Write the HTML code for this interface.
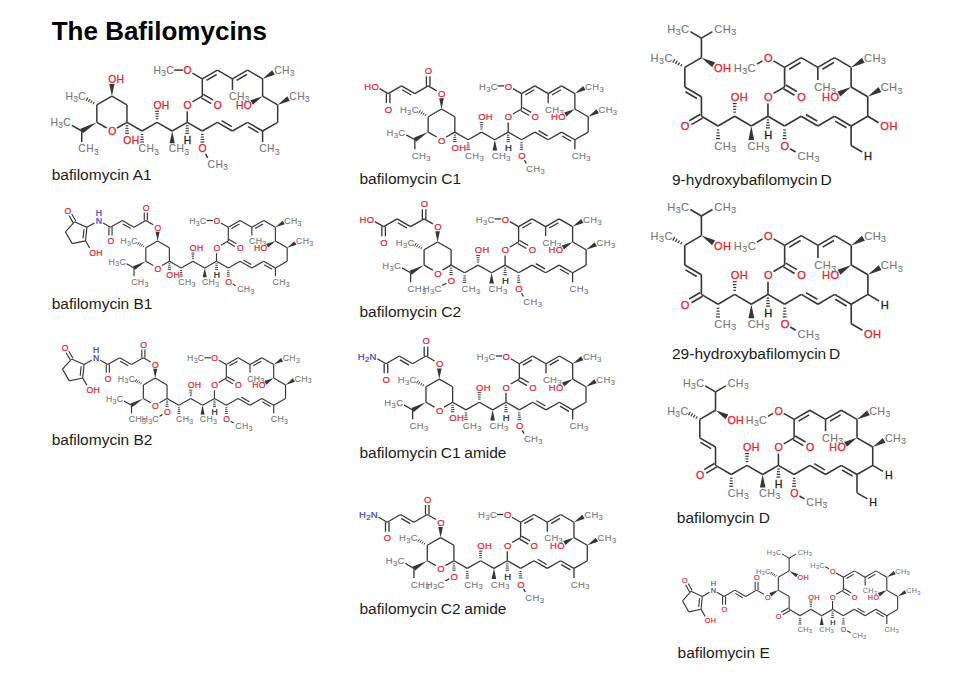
<!DOCTYPE html>
<html><head><meta charset="utf-8"><style>
html,body{margin:0;padding:0;background:#fff;}
body{width:960px;height:676px;overflow:hidden;position:relative;}
svg text{font-family:"Liberation Sans",sans-serif;}
</style></head><body>
<svg width="960" height="676" style="position:absolute;left:0;top:0">
<text x="51.7" y="39.7" font-size="26" font-weight="bold" fill="#000">The Bafilomycins</text>
<text x="51.7" y="179.8" font-size="15.5" fill="#1c1c1c" word-spacing="0">bafilomycin A1</text><text x="51.7" y="308.5" font-size="15.5" fill="#1c1c1c" word-spacing="0">bafilomycin B1</text><text x="51.7" y="445.4" font-size="15.5" fill="#1c1c1c" word-spacing="0">bafilomycin B2</text><text x="359.5" y="184.1" font-size="15.5" fill="#1c1c1c" word-spacing="0">bafilomycin C1</text><text x="359.5" y="317.3" font-size="15.5" fill="#1c1c1c" word-spacing="0">bafilomycin C2</text><text x="359.5" y="457.8" font-size="15.5" fill="#1c1c1c" word-spacing="-0.6">bafilomycin C1 amide</text><text x="359.5" y="614.0" font-size="15.5" fill="#1c1c1c" word-spacing="-0.6">bafilomycin C2 amide</text><text x="672.0" y="184.5" font-size="15.5" fill="#1c1c1c" word-spacing="-1.5">9-hydroxybafilomycin D</text><text x="672.0" y="359.1" font-size="15.5" fill="#1c1c1c" word-spacing="-1.5">29-hydroxybafilomycin D</text><text x="676.8" y="522.5" font-size="15.5" fill="#1c1c1c" word-spacing="0">bafilomycin D</text><text x="677.6" y="657.5" font-size="15.5" fill="#1c1c1c" word-spacing="0">bafilomycin E</text>
<g stroke="#363636" stroke-width="1.48" stroke-linecap="butt"><line x1="262.59" y1="131.00" x2="262.59" y2="142.01"/><line x1="140.79" y1="134.52" x2="143.29" y2="134.52" stroke-width="1.11"/><line x1="140.54" y1="137.02" x2="143.54" y2="137.02" stroke-width="1.11"/><line x1="140.29" y1="139.51" x2="143.79" y2="139.51" stroke-width="1.11"/><line x1="140.04" y1="142.01" x2="144.04" y2="142.01" stroke-width="1.11"/><line x1="142.04" y1="131.00" x2="157.11" y2="122.30"/><line x1="158.36" y1="118.78" x2="155.85" y2="118.78" stroke-width="1.11"/><line x1="158.61" y1="116.28" x2="155.61" y2="116.28" stroke-width="1.11"/><line x1="158.86" y1="113.79" x2="155.36" y2="113.79" stroke-width="1.11"/><line x1="159.11" y1="111.29" x2="155.11" y2="111.29" stroke-width="1.11"/><line x1="157.11" y1="122.30" x2="172.18" y2="131.00"/><polygon points="172.18,131.00 169.57,143.29 174.79,143.29" fill="#363636" stroke="none"/><line x1="172.18" y1="131.00" x2="187.24" y2="122.30"/><line x1="185.99" y1="125.82" x2="188.50" y2="125.82" stroke-width="1.11"/><line x1="185.74" y1="128.32" x2="188.75" y2="128.32" stroke-width="1.11"/><line x1="185.49" y1="130.81" x2="188.99" y2="130.81" stroke-width="1.11"/><line x1="185.24" y1="133.31" x2="189.24" y2="133.31" stroke-width="1.11"/><line x1="187.24" y1="122.30" x2="187.24" y2="111.29"/><line x1="192.42" y1="101.91" x2="202.31" y2="96.20"/><line x1="201.31" y1="97.93" x2="211.20" y2="103.64"/><line x1="203.31" y1="94.47" x2="213.20" y2="100.18"/><line x1="202.31" y1="96.20" x2="202.31" y2="78.80"/><line x1="202.31" y1="78.80" x2="192.42" y2="73.09"/><line x1="182.91" y1="70.10" x2="174.09" y2="70.10"/><line x1="202.31" y1="78.80" x2="217.38" y2="70.10"/><line x1="206.46" y1="80.42" x2="216.71" y2="74.51"/><line x1="217.38" y1="70.10" x2="232.45" y2="78.80"/><line x1="232.45" y1="78.80" x2="232.45" y2="89.81"/><line x1="232.45" y1="78.80" x2="247.52" y2="70.10"/><line x1="236.60" y1="80.42" x2="246.85" y2="74.51"/><line x1="247.52" y1="70.10" x2="262.59" y2="78.80"/><polygon points="262.59,78.80 274.82,74.75 272.21,70.23" fill="#363636" stroke="none"/><line x1="262.59" y1="78.80" x2="262.59" y2="96.20"/><polygon points="262.59,96.20 250.36,100.25 252.97,104.77" fill="#363636" stroke="none"/><line x1="262.59" y1="96.20" x2="277.66" y2="104.90"/><polygon points="277.66,104.90 289.89,100.85 287.28,96.33" fill="#363636" stroke="none"/><line x1="277.66" y1="104.90" x2="277.66" y2="122.30"/><line x1="277.66" y1="122.30" x2="262.59" y2="131.00"/><line x1="262.59" y1="131.00" x2="247.52" y2="122.30"/><line x1="258.44" y1="132.62" x2="248.19" y2="126.71"/><line x1="247.52" y1="122.30" x2="232.45" y2="131.00"/><line x1="232.45" y1="131.00" x2="217.38" y2="122.30"/><line x1="231.78" y1="126.59" x2="221.53" y2="120.68"/><line x1="217.38" y1="122.30" x2="202.31" y2="131.00"/><line x1="201.06" y1="134.52" x2="203.57" y2="134.52" stroke-width="1.11"/><line x1="200.81" y1="137.02" x2="203.81" y2="137.02" stroke-width="1.11"/><line x1="200.56" y1="139.51" x2="204.06" y2="139.51" stroke-width="1.11"/><line x1="200.31" y1="142.01" x2="204.31" y2="142.01" stroke-width="1.11"/><line x1="205.51" y1="153.93" x2="207.82" y2="157.93"/><line x1="202.31" y1="131.00" x2="187.24" y2="122.30"/><line x1="117.08" y1="128.01" x2="126.97" y2="122.30"/><line x1="126.97" y1="122.30" x2="126.97" y2="104.90"/><line x1="126.97" y1="104.90" x2="111.90" y2="96.20"/><line x1="111.90" y1="96.20" x2="96.83" y2="104.90"/><line x1="96.83" y1="104.90" x2="96.83" y2="122.30"/><line x1="96.83" y1="122.30" x2="106.72" y2="128.01"/><line x1="94.29" y1="101.99" x2="93.04" y2="104.16" stroke-width="1.11"/><line x1="92.17" y1="100.48" x2="90.67" y2="103.08" stroke-width="1.11"/><line x1="90.06" y1="98.97" x2="88.31" y2="102.00" stroke-width="1.11"/><line x1="87.94" y1="97.46" x2="85.94" y2="100.92" stroke-width="1.11"/><polygon points="96.83,122.30 80.46,128.74 83.07,133.26" fill="#363636" stroke="none"/><line x1="81.76" y1="131.00" x2="71.87" y2="125.29"/><line x1="81.76" y1="131.00" x2="81.76" y2="142.01"/><line x1="126.97" y1="122.30" x2="142.04" y2="131.00"/><line x1="125.72" y1="125.82" x2="128.22" y2="125.82" stroke-width="1.11"/><line x1="125.47" y1="128.32" x2="128.47" y2="128.32" stroke-width="1.11"/><line x1="125.22" y1="130.81" x2="128.72" y2="130.81" stroke-width="1.11"/><line x1="124.97" y1="133.31" x2="128.97" y2="133.31" stroke-width="1.11"/><polygon points="111.90,96.20 114.51,83.91 109.29,83.91" fill="#363636" stroke="none"/></g>
<text x="138.62" y="152.49" font-size="10.31" fill="#767676" stroke="#767676" stroke-width="0.10">C</text>
<text x="146.47" y="152.49" font-size="10.31" fill="#767676" stroke="#767676" stroke-width="0.10">H</text>
<text x="154.33" y="154.55" font-size="8.25" fill="#767676" stroke="#767676" stroke-width="0.10">3</text>
<text x="153.40" y="108.99" font-size="10.31" fill="#e8212e" stroke="#e8212e" stroke-width="0.26">O</text>
<text x="161.83" y="108.99" font-size="10.31" fill="#e8212e" stroke="#e8212e" stroke-width="0.26">H</text>
<text x="168.75" y="152.49" font-size="10.31" fill="#767676" stroke="#767676" stroke-width="0.10">C</text>
<text x="176.61" y="152.49" font-size="10.31" fill="#767676" stroke="#767676" stroke-width="0.10">H</text>
<text x="184.46" y="154.55" font-size="8.25" fill="#767676" stroke="#767676" stroke-width="0.10">3</text>
<text x="183.82" y="143.79" font-size="10.31" fill="#1a1a1a" stroke="#1a1a1a" stroke-width="0.26">H</text>
<text x="183.53" y="108.99" font-size="10.31" fill="#e8212e" stroke="#e8212e" stroke-width="0.26">O</text>
<text x="213.67" y="108.99" font-size="10.31" fill="#e8212e" stroke="#e8212e" stroke-width="0.26">O</text>
<text x="183.53" y="74.19" font-size="10.31" fill="#e8212e" stroke="#e8212e" stroke-width="0.26">O</text>
<text x="153.49" y="74.19" font-size="10.31" fill="#767676" stroke="#767676" stroke-width="0.10">H</text>
<text x="161.35" y="76.25" font-size="8.25" fill="#767676" stroke="#767676" stroke-width="0.10">3</text>
<text x="166.34" y="74.19" font-size="10.31" fill="#767676" stroke="#767676" stroke-width="0.10">C</text>
<text x="229.03" y="100.29" font-size="10.31" fill="#767676" stroke="#767676" stroke-width="0.10">C</text>
<text x="236.88" y="100.29" font-size="10.31" fill="#767676" stroke="#767676" stroke-width="0.10">H</text>
<text x="244.74" y="102.35" font-size="8.25" fill="#767676" stroke="#767676" stroke-width="0.10">3</text>
<text x="274.24" y="74.19" font-size="10.31" fill="#767676" stroke="#767676" stroke-width="0.10">C</text>
<text x="282.09" y="74.19" font-size="10.31" fill="#767676" stroke="#767676" stroke-width="0.10">H</text>
<text x="289.95" y="76.25" font-size="8.25" fill="#767676" stroke="#767676" stroke-width="0.10">3</text>
<text x="235.96" y="108.99" font-size="10.31" fill="#e8212e" stroke="#e8212e" stroke-width="0.26">H</text>
<text x="243.81" y="108.99" font-size="10.31" fill="#e8212e" stroke="#e8212e" stroke-width="0.26">O</text>
<text x="289.30" y="100.29" font-size="10.31" fill="#767676" stroke="#767676" stroke-width="0.10">C</text>
<text x="297.16" y="100.29" font-size="10.31" fill="#767676" stroke="#767676" stroke-width="0.10">H</text>
<text x="305.01" y="102.35" font-size="8.25" fill="#767676" stroke="#767676" stroke-width="0.10">3</text>
<text x="259.17" y="152.49" font-size="10.31" fill="#767676" stroke="#767676" stroke-width="0.10">C</text>
<text x="267.02" y="152.49" font-size="10.31" fill="#767676" stroke="#767676" stroke-width="0.10">H</text>
<text x="274.88" y="154.55" font-size="8.25" fill="#767676" stroke="#767676" stroke-width="0.10">3</text>
<text x="198.60" y="152.49" font-size="10.31" fill="#e8212e" stroke="#e8212e" stroke-width="0.26">O</text>
<text x="207.59" y="167.56" font-size="10.31" fill="#767676" stroke="#767676" stroke-width="0.10">C</text>
<text x="215.45" y="167.56" font-size="10.31" fill="#767676" stroke="#767676" stroke-width="0.10">H</text>
<text x="223.30" y="169.62" font-size="8.25" fill="#767676" stroke="#767676" stroke-width="0.10">3</text>
<text x="108.19" y="135.09" font-size="10.31" fill="#e8212e" stroke="#e8212e" stroke-width="0.26">O</text>
<text x="65.49" y="100.29" font-size="10.31" fill="#767676" stroke="#767676" stroke-width="0.10">H</text>
<text x="73.34" y="102.35" font-size="8.25" fill="#767676" stroke="#767676" stroke-width="0.10">3</text>
<text x="78.34" y="100.29" font-size="10.31" fill="#767676" stroke="#767676" stroke-width="0.10">C</text>
<text x="50.42" y="126.39" font-size="10.31" fill="#767676" stroke="#767676" stroke-width="0.10">H</text>
<text x="58.27" y="128.45" font-size="8.25" fill="#767676" stroke="#767676" stroke-width="0.10">3</text>
<text x="63.27" y="126.39" font-size="10.31" fill="#767676" stroke="#767676" stroke-width="0.10">C</text>
<text x="78.34" y="152.49" font-size="10.31" fill="#767676" stroke="#767676" stroke-width="0.10">C</text>
<text x="86.20" y="152.49" font-size="10.31" fill="#767676" stroke="#767676" stroke-width="0.10">H</text>
<text x="94.05" y="154.55" font-size="8.25" fill="#767676" stroke="#767676" stroke-width="0.10">3</text>
<text x="123.26" y="143.79" font-size="10.31" fill="#e8212e" stroke="#e8212e" stroke-width="0.26">O</text>
<text x="131.69" y="143.79" font-size="10.31" fill="#e8212e" stroke="#e8212e" stroke-width="0.26">H</text>
<text x="108.19" y="82.89" font-size="10.31" fill="#e8212e" stroke="#e8212e" stroke-width="0.26">O</text>
<text x="116.62" y="82.89" font-size="10.31" fill="#e8212e" stroke="#e8212e" stroke-width="0.26">H</text>
<g stroke="#363636" stroke-width="1.15" stroke-linecap="butt"><line x1="275.40" y1="268.00" x2="275.40" y2="276.16"/><line x1="180.18" y1="270.61" x2="182.14" y2="270.61" stroke-width="0.90"/><line x1="179.99" y1="272.46" x2="182.33" y2="272.46" stroke-width="0.90"/><line x1="179.80" y1="274.31" x2="182.52" y2="274.31" stroke-width="0.90"/><line x1="179.60" y1="276.16" x2="182.72" y2="276.16" stroke-width="0.90"/><line x1="181.16" y1="268.00" x2="192.94" y2="261.23"/><line x1="193.92" y1="258.61" x2="191.96" y2="258.61" stroke-width="0.90"/><line x1="194.11" y1="256.76" x2="191.77" y2="256.76" stroke-width="0.90"/><line x1="194.30" y1="254.91" x2="191.58" y2="254.91" stroke-width="0.90"/><line x1="194.50" y1="253.06" x2="191.38" y2="253.06" stroke-width="0.90"/><line x1="192.94" y1="261.23" x2="204.72" y2="268.00"/><polygon points="204.72,268.00 202.69,277.24 206.75,277.24" fill="#363636" stroke="none"/><line x1="204.72" y1="268.00" x2="216.50" y2="261.23"/><line x1="215.52" y1="263.84" x2="217.48" y2="263.84" stroke-width="0.90"/><line x1="215.33" y1="265.69" x2="217.67" y2="265.69" stroke-width="0.90"/><line x1="215.14" y1="267.54" x2="217.86" y2="267.54" stroke-width="0.90"/><line x1="214.94" y1="269.39" x2="218.06" y2="269.39" stroke-width="0.90"/><line x1="216.50" y1="261.23" x2="216.50" y2="253.06"/><line x1="220.87" y1="245.16" x2="228.28" y2="240.90"/><line x1="227.50" y1="242.25" x2="234.92" y2="246.51"/><line x1="229.06" y1="239.55" x2="236.47" y2="243.81"/><line x1="228.28" y1="240.90" x2="228.28" y2="227.35"/><line x1="228.28" y1="227.35" x2="220.87" y2="223.09"/><line x1="212.85" y1="220.57" x2="206.49" y2="220.57"/><line x1="228.28" y1="227.35" x2="240.06" y2="220.57"/><line x1="231.51" y1="228.62" x2="239.53" y2="224.01"/><line x1="240.06" y1="220.57" x2="251.84" y2="227.35"/><line x1="251.84" y1="227.35" x2="251.84" y2="235.51"/><line x1="251.84" y1="227.35" x2="263.62" y2="220.57"/><line x1="255.07" y1="228.62" x2="263.09" y2="224.01"/><line x1="263.62" y1="220.57" x2="275.40" y2="227.35"/><polygon points="275.40,227.35 284.70,224.35 282.67,220.82" fill="#363636" stroke="none"/><line x1="275.40" y1="227.35" x2="275.40" y2="240.90"/><polygon points="275.40,240.90 266.10,243.90 268.13,247.43" fill="#363636" stroke="none"/><line x1="275.40" y1="240.90" x2="287.18" y2="247.68"/><polygon points="287.18,247.68 296.48,244.67 294.45,241.15" fill="#363636" stroke="none"/><line x1="287.18" y1="247.68" x2="287.18" y2="261.23"/><line x1="287.18" y1="261.23" x2="275.40" y2="268.00"/><line x1="275.40" y1="268.00" x2="263.62" y2="261.23"/><line x1="272.17" y1="269.27" x2="264.15" y2="264.66"/><line x1="263.62" y1="261.23" x2="251.84" y2="268.00"/><line x1="251.84" y1="268.00" x2="240.06" y2="261.23"/><line x1="251.31" y1="264.57" x2="243.29" y2="259.96"/><line x1="240.06" y1="261.23" x2="228.28" y2="268.00"/><line x1="227.30" y1="270.61" x2="229.26" y2="270.61" stroke-width="0.90"/><line x1="227.11" y1="272.46" x2="229.45" y2="272.46" stroke-width="0.90"/><line x1="226.92" y1="274.31" x2="229.64" y2="274.31" stroke-width="0.90"/><line x1="226.72" y1="276.16" x2="229.84" y2="276.16" stroke-width="0.90"/><line x1="232.65" y1="284.06" x2="235.69" y2="285.81"/><line x1="228.28" y1="268.00" x2="216.50" y2="261.23"/><line x1="161.97" y1="265.49" x2="169.38" y2="261.23"/><line x1="169.38" y1="261.23" x2="169.38" y2="247.68"/><line x1="169.38" y1="247.68" x2="157.60" y2="240.90"/><line x1="157.60" y1="240.90" x2="145.82" y2="247.68"/><line x1="145.82" y1="247.68" x2="145.82" y2="261.23"/><line x1="145.82" y1="261.23" x2="153.23" y2="265.49"/><line x1="143.93" y1="245.46" x2="142.96" y2="247.16" stroke-width="0.90"/><line x1="142.35" y1="244.33" x2="141.18" y2="246.36" stroke-width="0.90"/><line x1="140.77" y1="243.20" x2="139.41" y2="245.56" stroke-width="0.90"/><line x1="139.18" y1="242.06" x2="137.63" y2="244.76" stroke-width="0.90"/><polygon points="145.82,261.23 133.03,266.24 135.05,269.76" fill="#363636" stroke="none"/><line x1="134.04" y1="268.00" x2="126.63" y2="263.74"/><line x1="134.04" y1="268.00" x2="134.04" y2="276.16"/><line x1="169.38" y1="261.23" x2="181.16" y2="268.00"/><line x1="168.40" y1="263.84" x2="170.36" y2="263.84" stroke-width="0.90"/><line x1="168.21" y1="265.69" x2="170.55" y2="265.69" stroke-width="0.90"/><line x1="168.02" y1="267.54" x2="170.74" y2="267.54" stroke-width="0.90"/><line x1="167.82" y1="269.39" x2="170.94" y2="269.39" stroke-width="0.90"/><polygon points="157.60,240.90 159.63,231.66 155.57,231.66" fill="#363636" stroke="none"/><line x1="153.23" y1="224.84" x2="145.82" y2="220.57"/><line x1="147.38" y1="220.57" x2="147.38" y2="212.41"/><line x1="144.26" y1="220.57" x2="144.26" y2="212.41"/><line x1="145.82" y1="220.57" x2="134.04" y2="227.35"/><line x1="134.04" y1="227.35" x2="122.26" y2="220.57"/><line x1="130.81" y1="228.62" x2="122.79" y2="224.01"/><line x1="122.26" y1="220.57" x2="110.48" y2="227.35"/><line x1="108.92" y1="227.35" x2="108.92" y2="235.51"/><line x1="112.04" y1="227.35" x2="112.04" y2="235.51"/><line x1="110.48" y1="227.35" x2="103.07" y2="223.09"/><line x1="94.33" y1="223.09" x2="86.92" y2="227.35"/><line x1="86.92" y1="227.35" x2="85.49" y2="240.82"/><line x1="84.00" y1="229.22" x2="83.03" y2="238.38"/><line x1="85.49" y1="240.82" x2="72.19" y2="243.64"/><line x1="72.19" y1="243.64" x2="65.39" y2="231.90"/><line x1="65.39" y1="231.90" x2="74.49" y2="221.84"/><line x1="74.49" y1="221.84" x2="86.92" y2="227.35"/><line x1="75.84" y1="221.05" x2="71.74" y2="213.98"/><line x1="73.14" y1="222.62" x2="69.04" y2="215.54"/><line x1="85.49" y1="240.82" x2="89.59" y2="247.89"/></g>
<text x="178.32" y="285.06" font-size="8.69" fill="#767676" stroke="#767676" stroke-width="0.09">C</text>
<text x="184.95" y="285.06" font-size="8.69" fill="#767676" stroke="#767676" stroke-width="0.09">H</text>
<text x="191.57" y="286.80" font-size="6.95" fill="#767676" stroke="#767676" stroke-width="0.09">3</text>
<text x="189.86" y="251.19" font-size="8.69" fill="#e8212e" stroke="#e8212e" stroke-width="0.22">O</text>
<text x="196.97" y="251.19" font-size="8.69" fill="#e8212e" stroke="#e8212e" stroke-width="0.22">H</text>
<text x="201.88" y="285.06" font-size="8.69" fill="#767676" stroke="#767676" stroke-width="0.09">C</text>
<text x="208.51" y="285.06" font-size="8.69" fill="#767676" stroke="#767676" stroke-width="0.09">H</text>
<text x="215.13" y="286.80" font-size="6.95" fill="#767676" stroke="#767676" stroke-width="0.09">3</text>
<text x="213.66" y="278.29" font-size="8.69" fill="#1a1a1a" stroke="#1a1a1a" stroke-width="0.22">H</text>
<text x="213.42" y="251.19" font-size="8.69" fill="#e8212e" stroke="#e8212e" stroke-width="0.22">O</text>
<text x="236.98" y="251.19" font-size="8.69" fill="#e8212e" stroke="#e8212e" stroke-width="0.22">O</text>
<text x="213.42" y="224.09" font-size="8.69" fill="#e8212e" stroke="#e8212e" stroke-width="0.22">O</text>
<text x="189.16" y="224.09" font-size="8.69" fill="#767676" stroke="#767676" stroke-width="0.09">H</text>
<text x="195.78" y="225.82" font-size="6.95" fill="#767676" stroke="#767676" stroke-width="0.09">3</text>
<text x="200.00" y="224.09" font-size="8.69" fill="#767676" stroke="#767676" stroke-width="0.09">C</text>
<text x="249.00" y="244.41" font-size="8.69" fill="#767676" stroke="#767676" stroke-width="0.09">C</text>
<text x="255.63" y="244.41" font-size="8.69" fill="#767676" stroke="#767676" stroke-width="0.09">H</text>
<text x="262.25" y="246.15" font-size="6.95" fill="#767676" stroke="#767676" stroke-width="0.09">3</text>
<text x="284.34" y="224.09" font-size="8.69" fill="#767676" stroke="#767676" stroke-width="0.09">C</text>
<text x="290.97" y="224.09" font-size="8.69" fill="#767676" stroke="#767676" stroke-width="0.09">H</text>
<text x="297.59" y="225.82" font-size="6.95" fill="#767676" stroke="#767676" stroke-width="0.09">3</text>
<text x="253.92" y="251.19" font-size="8.69" fill="#e8212e" stroke="#e8212e" stroke-width="0.22">H</text>
<text x="260.54" y="251.19" font-size="8.69" fill="#e8212e" stroke="#e8212e" stroke-width="0.22">O</text>
<text x="296.12" y="244.41" font-size="8.69" fill="#767676" stroke="#767676" stroke-width="0.09">C</text>
<text x="302.75" y="244.41" font-size="8.69" fill="#767676" stroke="#767676" stroke-width="0.09">H</text>
<text x="309.37" y="246.15" font-size="6.95" fill="#767676" stroke="#767676" stroke-width="0.09">3</text>
<text x="272.56" y="285.06" font-size="8.69" fill="#767676" stroke="#767676" stroke-width="0.09">C</text>
<text x="279.19" y="285.06" font-size="8.69" fill="#767676" stroke="#767676" stroke-width="0.09">H</text>
<text x="285.81" y="286.80" font-size="6.95" fill="#767676" stroke="#767676" stroke-width="0.09">3</text>
<text x="225.20" y="285.06" font-size="8.69" fill="#e8212e" stroke="#e8212e" stroke-width="0.22">O</text>
<text x="237.22" y="291.84" font-size="8.69" fill="#767676" stroke="#767676" stroke-width="0.09">C</text>
<text x="243.85" y="291.84" font-size="8.69" fill="#767676" stroke="#767676" stroke-width="0.09">H</text>
<text x="250.47" y="293.57" font-size="6.95" fill="#767676" stroke="#767676" stroke-width="0.09">3</text>
<text x="154.52" y="271.51" font-size="8.69" fill="#e8212e" stroke="#e8212e" stroke-width="0.22">O</text>
<text x="120.37" y="244.41" font-size="8.69" fill="#767676" stroke="#767676" stroke-width="0.09">H</text>
<text x="126.99" y="246.15" font-size="6.95" fill="#767676" stroke="#767676" stroke-width="0.09">3</text>
<text x="131.20" y="244.41" font-size="8.69" fill="#767676" stroke="#767676" stroke-width="0.09">C</text>
<text x="108.59" y="264.74" font-size="8.69" fill="#767676" stroke="#767676" stroke-width="0.09">H</text>
<text x="115.21" y="266.47" font-size="6.95" fill="#767676" stroke="#767676" stroke-width="0.09">3</text>
<text x="119.42" y="264.74" font-size="8.69" fill="#767676" stroke="#767676" stroke-width="0.09">C</text>
<text x="131.20" y="285.06" font-size="8.69" fill="#767676" stroke="#767676" stroke-width="0.09">C</text>
<text x="137.83" y="285.06" font-size="8.69" fill="#767676" stroke="#767676" stroke-width="0.09">H</text>
<text x="144.45" y="286.80" font-size="6.95" fill="#767676" stroke="#767676" stroke-width="0.09">3</text>
<text x="166.30" y="278.29" font-size="8.69" fill="#e8212e" stroke="#e8212e" stroke-width="0.22">O</text>
<text x="173.41" y="278.29" font-size="8.69" fill="#e8212e" stroke="#e8212e" stroke-width="0.22">H</text>
<text x="154.52" y="230.86" font-size="8.69" fill="#e8212e" stroke="#e8212e" stroke-width="0.22">O</text>
<text x="142.74" y="210.54" font-size="8.69" fill="#e8212e" stroke="#e8212e" stroke-width="0.22">O</text>
<text x="107.40" y="244.41" font-size="8.69" fill="#e8212e" stroke="#e8212e" stroke-width="0.22">O</text>
<text x="95.86" y="224.09" font-size="8.69" fill="#3a3ad0" stroke="#3a3ad0" stroke-width="0.22">N</text>
<text x="95.86" y="215.57" font-size="8.69" fill="#3a3ad0" stroke="#3a3ad0" stroke-width="0.22">H</text>
<text x="64.61" y="213.61" font-size="8.69" fill="#e8212e" stroke="#e8212e" stroke-width="0.22">O</text>
<text x="89.21" y="256.06" font-size="8.69" fill="#e8212e" stroke="#e8212e" stroke-width="0.22">O</text>
<text x="96.32" y="256.06" font-size="8.69" fill="#e8212e" stroke="#e8212e" stroke-width="0.22">H</text>
<g stroke="#363636" stroke-width="1.15" stroke-linecap="butt"><line x1="273.70" y1="405.20" x2="273.70" y2="413.36"/><line x1="177.92" y1="407.81" x2="179.88" y2="407.81" stroke-width="0.90"/><line x1="177.73" y1="409.66" x2="180.07" y2="409.66" stroke-width="0.90"/><line x1="177.54" y1="411.51" x2="180.26" y2="411.51" stroke-width="0.90"/><line x1="177.34" y1="413.36" x2="180.46" y2="413.36" stroke-width="0.90"/><line x1="178.90" y1="405.20" x2="190.75" y2="398.43"/><line x1="191.73" y1="395.81" x2="189.77" y2="395.81" stroke-width="0.90"/><line x1="191.92" y1="393.96" x2="189.58" y2="393.96" stroke-width="0.90"/><line x1="192.11" y1="392.11" x2="189.39" y2="392.11" stroke-width="0.90"/><line x1="192.31" y1="390.26" x2="189.19" y2="390.26" stroke-width="0.90"/><line x1="190.75" y1="398.43" x2="202.60" y2="405.20"/><polygon points="202.60,405.20 200.57,414.44 204.63,414.44" fill="#363636" stroke="none"/><line x1="202.60" y1="405.20" x2="214.45" y2="398.43"/><line x1="213.47" y1="401.04" x2="215.43" y2="401.04" stroke-width="0.90"/><line x1="213.28" y1="402.89" x2="215.62" y2="402.89" stroke-width="0.90"/><line x1="213.09" y1="404.74" x2="215.81" y2="404.74" stroke-width="0.90"/><line x1="212.89" y1="406.59" x2="216.01" y2="406.59" stroke-width="0.90"/><line x1="214.45" y1="398.43" x2="214.45" y2="390.26"/><line x1="218.82" y1="382.38" x2="226.30" y2="378.10"/><line x1="225.53" y1="379.45" x2="233.01" y2="383.73"/><line x1="227.07" y1="376.75" x2="234.56" y2="381.03"/><line x1="226.30" y1="378.10" x2="226.30" y2="364.55"/><line x1="226.30" y1="364.55" x2="218.82" y2="360.27"/><line x1="210.80" y1="357.77" x2="204.35" y2="357.77"/><line x1="226.30" y1="364.55" x2="238.15" y2="357.77"/><line x1="229.53" y1="365.83" x2="237.61" y2="361.20"/><line x1="238.15" y1="357.77" x2="250.00" y2="364.55"/><line x1="250.00" y1="364.55" x2="250.00" y2="372.71"/><line x1="250.00" y1="364.55" x2="261.85" y2="357.77"/><line x1="253.23" y1="365.83" x2="261.31" y2="361.20"/><line x1="261.85" y1="357.77" x2="273.70" y2="364.55"/><polygon points="273.70,364.55 283.07,361.54 281.05,358.01" fill="#363636" stroke="none"/><line x1="273.70" y1="364.55" x2="273.70" y2="378.10"/><polygon points="273.70,378.10 264.33,381.11 266.35,384.64" fill="#363636" stroke="none"/><line x1="273.70" y1="378.10" x2="285.55" y2="384.88"/><polygon points="285.55,384.88 294.92,381.86 292.90,378.33" fill="#363636" stroke="none"/><line x1="285.55" y1="384.88" x2="285.55" y2="398.43"/><line x1="285.55" y1="398.43" x2="273.70" y2="405.20"/><line x1="273.70" y1="405.20" x2="261.85" y2="398.43"/><line x1="270.47" y1="406.48" x2="262.39" y2="401.85"/><line x1="261.85" y1="398.43" x2="250.00" y2="405.20"/><line x1="250.00" y1="405.20" x2="238.15" y2="398.43"/><line x1="249.46" y1="401.77" x2="241.38" y2="397.15"/><line x1="238.15" y1="398.43" x2="226.30" y2="405.20"/><line x1="225.32" y1="407.81" x2="227.28" y2="407.81" stroke-width="0.90"/><line x1="225.13" y1="409.66" x2="227.47" y2="409.66" stroke-width="0.90"/><line x1="224.94" y1="411.51" x2="227.66" y2="411.51" stroke-width="0.90"/><line x1="224.74" y1="413.36" x2="227.86" y2="413.36" stroke-width="0.90"/><line x1="230.67" y1="421.25" x2="233.78" y2="423.03"/><line x1="226.30" y1="405.20" x2="214.45" y2="398.43"/><line x1="159.57" y1="402.70" x2="167.05" y2="398.43"/><line x1="167.05" y1="398.43" x2="167.05" y2="384.88"/><line x1="167.05" y1="384.88" x2="155.20" y2="378.10"/><line x1="155.20" y1="378.10" x2="143.35" y2="384.88"/><line x1="143.35" y1="384.88" x2="143.35" y2="398.43"/><line x1="143.35" y1="398.43" x2="150.83" y2="402.70"/><line x1="141.44" y1="382.66" x2="140.47" y2="384.35" stroke-width="0.90"/><line x1="139.84" y1="381.52" x2="138.68" y2="383.55" stroke-width="0.90"/><line x1="138.24" y1="380.38" x2="136.89" y2="382.75" stroke-width="0.90"/><line x1="136.64" y1="379.24" x2="135.09" y2="381.95" stroke-width="0.90"/><polygon points="143.35,398.43 130.49,403.44 132.51,406.96" fill="#363636" stroke="none"/><line x1="131.50" y1="405.20" x2="124.02" y2="400.92"/><line x1="131.50" y1="405.20" x2="131.50" y2="413.36"/><line x1="167.05" y1="398.43" x2="178.90" y2="405.20"/><line x1="166.07" y1="401.04" x2="168.03" y2="401.04" stroke-width="0.90"/><line x1="165.88" y1="402.89" x2="168.22" y2="402.89" stroke-width="0.90"/><line x1="165.69" y1="404.74" x2="168.41" y2="404.74" stroke-width="0.90"/><line x1="165.49" y1="406.59" x2="168.61" y2="406.59" stroke-width="0.90"/><line x1="162.68" y1="414.47" x2="159.57" y2="416.25"/><polygon points="155.20,378.10 157.23,368.86 153.17,368.86" fill="#363636" stroke="none"/><line x1="150.83" y1="362.05" x2="143.35" y2="357.77"/><line x1="144.91" y1="357.77" x2="144.91" y2="349.61"/><line x1="141.79" y1="357.77" x2="141.79" y2="349.61"/><line x1="143.35" y1="357.77" x2="131.50" y2="364.55"/><line x1="131.50" y1="364.55" x2="119.65" y2="357.77"/><line x1="128.27" y1="365.83" x2="120.19" y2="361.20"/><line x1="119.65" y1="357.77" x2="107.80" y2="364.55"/><line x1="106.24" y1="364.55" x2="106.24" y2="372.71"/><line x1="109.36" y1="364.55" x2="109.36" y2="372.71"/><line x1="107.80" y1="364.55" x2="100.32" y2="360.27"/><line x1="91.58" y1="360.27" x2="84.10" y2="364.55"/><line x1="84.10" y1="364.55" x2="82.66" y2="378.02"/><line x1="81.18" y1="366.42" x2="80.20" y2="375.58"/><line x1="82.66" y1="378.02" x2="69.28" y2="380.84"/><line x1="69.28" y1="380.84" x2="62.44" y2="369.10"/><line x1="62.44" y1="369.10" x2="71.59" y2="359.04"/><line x1="71.59" y1="359.04" x2="84.10" y2="364.55"/><line x1="72.94" y1="358.25" x2="68.81" y2="351.17"/><line x1="70.25" y1="359.82" x2="66.12" y2="352.74"/><line x1="82.66" y1="378.02" x2="86.79" y2="385.10"/></g>
<text x="176.06" y="422.26" font-size="8.69" fill="#767676" stroke="#767676" stroke-width="0.09">C</text>
<text x="182.69" y="422.26" font-size="8.69" fill="#767676" stroke="#767676" stroke-width="0.09">H</text>
<text x="189.31" y="424.00" font-size="6.95" fill="#767676" stroke="#767676" stroke-width="0.09">3</text>
<text x="187.67" y="388.39" font-size="8.69" fill="#e8212e" stroke="#e8212e" stroke-width="0.22">O</text>
<text x="194.78" y="388.39" font-size="8.69" fill="#e8212e" stroke="#e8212e" stroke-width="0.22">H</text>
<text x="199.76" y="422.26" font-size="8.69" fill="#767676" stroke="#767676" stroke-width="0.09">C</text>
<text x="206.39" y="422.26" font-size="8.69" fill="#767676" stroke="#767676" stroke-width="0.09">H</text>
<text x="213.01" y="424.00" font-size="6.95" fill="#767676" stroke="#767676" stroke-width="0.09">3</text>
<text x="211.61" y="415.49" font-size="8.69" fill="#1a1a1a" stroke="#1a1a1a" stroke-width="0.22">H</text>
<text x="211.37" y="388.39" font-size="8.69" fill="#e8212e" stroke="#e8212e" stroke-width="0.22">O</text>
<text x="235.07" y="388.39" font-size="8.69" fill="#e8212e" stroke="#e8212e" stroke-width="0.22">O</text>
<text x="211.37" y="361.29" font-size="8.69" fill="#e8212e" stroke="#e8212e" stroke-width="0.22">O</text>
<text x="187.03" y="361.29" font-size="8.69" fill="#767676" stroke="#767676" stroke-width="0.09">H</text>
<text x="193.65" y="363.02" font-size="6.95" fill="#767676" stroke="#767676" stroke-width="0.09">3</text>
<text x="197.87" y="361.29" font-size="8.69" fill="#767676" stroke="#767676" stroke-width="0.09">C</text>
<text x="247.16" y="381.61" font-size="8.69" fill="#767676" stroke="#767676" stroke-width="0.09">C</text>
<text x="253.79" y="381.61" font-size="8.69" fill="#767676" stroke="#767676" stroke-width="0.09">H</text>
<text x="260.41" y="383.35" font-size="6.95" fill="#767676" stroke="#767676" stroke-width="0.09">3</text>
<text x="282.71" y="361.29" font-size="8.69" fill="#767676" stroke="#767676" stroke-width="0.09">C</text>
<text x="289.34" y="361.29" font-size="8.69" fill="#767676" stroke="#767676" stroke-width="0.09">H</text>
<text x="295.96" y="363.02" font-size="6.95" fill="#767676" stroke="#767676" stroke-width="0.09">3</text>
<text x="252.15" y="388.39" font-size="8.69" fill="#e8212e" stroke="#e8212e" stroke-width="0.22">H</text>
<text x="258.77" y="388.39" font-size="8.69" fill="#e8212e" stroke="#e8212e" stroke-width="0.22">O</text>
<text x="294.56" y="381.61" font-size="8.69" fill="#767676" stroke="#767676" stroke-width="0.09">C</text>
<text x="301.19" y="381.61" font-size="8.69" fill="#767676" stroke="#767676" stroke-width="0.09">H</text>
<text x="307.81" y="383.35" font-size="6.95" fill="#767676" stroke="#767676" stroke-width="0.09">3</text>
<text x="270.86" y="422.26" font-size="8.69" fill="#767676" stroke="#767676" stroke-width="0.09">C</text>
<text x="277.49" y="422.26" font-size="8.69" fill="#767676" stroke="#767676" stroke-width="0.09">H</text>
<text x="284.11" y="424.00" font-size="6.95" fill="#767676" stroke="#767676" stroke-width="0.09">3</text>
<text x="223.22" y="422.26" font-size="8.69" fill="#e8212e" stroke="#e8212e" stroke-width="0.22">O</text>
<text x="235.31" y="429.04" font-size="8.69" fill="#767676" stroke="#767676" stroke-width="0.09">C</text>
<text x="241.94" y="429.04" font-size="8.69" fill="#767676" stroke="#767676" stroke-width="0.09">H</text>
<text x="248.56" y="430.77" font-size="6.95" fill="#767676" stroke="#767676" stroke-width="0.09">3</text>
<text x="152.12" y="408.71" font-size="8.69" fill="#e8212e" stroke="#e8212e" stroke-width="0.22">O</text>
<text x="117.83" y="381.61" font-size="8.69" fill="#767676" stroke="#767676" stroke-width="0.09">H</text>
<text x="124.45" y="383.35" font-size="6.95" fill="#767676" stroke="#767676" stroke-width="0.09">3</text>
<text x="128.66" y="381.61" font-size="8.69" fill="#767676" stroke="#767676" stroke-width="0.09">C</text>
<text x="105.98" y="401.94" font-size="8.69" fill="#767676" stroke="#767676" stroke-width="0.09">H</text>
<text x="112.60" y="403.67" font-size="6.95" fill="#767676" stroke="#767676" stroke-width="0.09">3</text>
<text x="116.81" y="401.94" font-size="8.69" fill="#767676" stroke="#767676" stroke-width="0.09">C</text>
<text x="128.66" y="422.26" font-size="8.69" fill="#767676" stroke="#767676" stroke-width="0.09">C</text>
<text x="135.29" y="422.26" font-size="8.69" fill="#767676" stroke="#767676" stroke-width="0.09">H</text>
<text x="141.91" y="424.00" font-size="6.95" fill="#767676" stroke="#767676" stroke-width="0.09">3</text>
<text x="163.97" y="415.49" font-size="8.69" fill="#e8212e" stroke="#e8212e" stroke-width="0.22">O</text>
<text x="141.53" y="422.26" font-size="8.69" fill="#767676" stroke="#767676" stroke-width="0.09">H</text>
<text x="148.15" y="424.00" font-size="6.95" fill="#767676" stroke="#767676" stroke-width="0.09">3</text>
<text x="152.36" y="422.26" font-size="8.69" fill="#767676" stroke="#767676" stroke-width="0.09">C</text>
<text x="152.12" y="368.06" font-size="8.69" fill="#e8212e" stroke="#e8212e" stroke-width="0.22">O</text>
<text x="140.27" y="347.74" font-size="8.69" fill="#e8212e" stroke="#e8212e" stroke-width="0.22">O</text>
<text x="104.72" y="381.61" font-size="8.69" fill="#e8212e" stroke="#e8212e" stroke-width="0.22">O</text>
<text x="93.11" y="361.29" font-size="8.69" fill="#3a3ad0" stroke="#3a3ad0" stroke-width="0.22">N</text>
<text x="93.11" y="352.77" font-size="8.69" fill="#3a3ad0" stroke="#3a3ad0" stroke-width="0.22">H</text>
<text x="61.67" y="350.81" font-size="8.69" fill="#e8212e" stroke="#e8212e" stroke-width="0.22">O</text>
<text x="86.42" y="393.26" font-size="8.69" fill="#e8212e" stroke="#e8212e" stroke-width="0.22">O</text>
<text x="93.53" y="393.26" font-size="8.69" fill="#e8212e" stroke="#e8212e" stroke-width="0.22">H</text>
<g stroke="#363636" stroke-width="1.31" stroke-linecap="butt"><line x1="574.87" y1="139.80" x2="574.87" y2="149.33"/><line x1="467.06" y1="142.85" x2="469.28" y2="142.85" stroke-width="0.98"/><line x1="466.84" y1="145.01" x2="469.50" y2="145.01" stroke-width="0.98"/><line x1="466.62" y1="147.17" x2="469.72" y2="147.17" stroke-width="0.98"/><line x1="466.40" y1="149.33" x2="469.94" y2="149.33" stroke-width="0.98"/><line x1="468.17" y1="139.80" x2="481.51" y2="132.10"/><line x1="482.62" y1="129.05" x2="480.40" y2="129.05" stroke-width="0.98"/><line x1="482.84" y1="126.89" x2="480.18" y2="126.89" stroke-width="0.98"/><line x1="483.06" y1="124.73" x2="479.96" y2="124.73" stroke-width="0.98"/><line x1="483.28" y1="122.57" x2="479.74" y2="122.57" stroke-width="0.98"/><line x1="481.51" y1="132.10" x2="494.85" y2="139.80"/><polygon points="494.85,139.80 492.54,150.50 497.16,150.50" fill="#363636" stroke="none"/><line x1="494.85" y1="139.80" x2="508.18" y2="132.10"/><line x1="507.08" y1="135.15" x2="509.29" y2="135.15" stroke-width="0.98"/><line x1="506.85" y1="137.31" x2="509.51" y2="137.31" stroke-width="0.98"/><line x1="506.63" y1="139.47" x2="509.73" y2="139.47" stroke-width="0.98"/><line x1="506.41" y1="141.63" x2="509.95" y2="141.63" stroke-width="0.98"/><line x1="508.18" y1="132.10" x2="508.18" y2="122.57"/><line x1="512.94" y1="113.95" x2="521.52" y2="109.00"/><line x1="520.64" y1="110.53" x2="529.22" y2="115.49"/><line x1="522.41" y1="107.47" x2="530.99" y2="112.42"/><line x1="521.52" y1="109.00" x2="521.52" y2="93.60"/><line x1="521.52" y1="93.60" x2="512.94" y2="88.65"/><line x1="504.21" y1="85.90" x2="497.89" y2="85.90"/><line x1="521.52" y1="93.60" x2="534.86" y2="85.90"/><line x1="525.19" y1="95.04" x2="534.26" y2="89.80"/><line x1="534.86" y1="85.90" x2="548.19" y2="93.60"/><line x1="548.19" y1="93.60" x2="548.19" y2="103.13"/><line x1="548.19" y1="93.60" x2="561.53" y2="85.90"/><line x1="551.87" y1="95.04" x2="560.94" y2="89.80"/><line x1="561.53" y1="85.90" x2="574.87" y2="93.60"/><polygon points="574.87,93.60 585.56,90.10 583.25,86.10" fill="#363636" stroke="none"/><line x1="574.87" y1="93.60" x2="574.87" y2="109.00"/><polygon points="574.87,109.00 564.18,112.50 566.49,116.50" fill="#363636" stroke="none"/><line x1="574.87" y1="109.00" x2="588.20" y2="116.70"/><polygon points="588.20,116.70 598.89,113.20 596.58,109.20" fill="#363636" stroke="none"/><line x1="588.20" y1="116.70" x2="588.20" y2="132.10"/><line x1="588.20" y1="132.10" x2="574.87" y2="139.80"/><line x1="574.87" y1="139.80" x2="561.53" y2="132.10"/><line x1="571.19" y1="141.24" x2="562.13" y2="136.00"/><line x1="561.53" y1="132.10" x2="548.19" y2="139.80"/><line x1="548.19" y1="139.80" x2="534.86" y2="132.10"/><line x1="547.60" y1="135.90" x2="538.53" y2="130.66"/><line x1="534.86" y1="132.10" x2="521.52" y2="139.80"/><line x1="520.41" y1="142.85" x2="522.63" y2="142.85" stroke-width="0.98"/><line x1="520.19" y1="145.01" x2="522.85" y2="145.01" stroke-width="0.98"/><line x1="519.97" y1="147.17" x2="523.07" y2="147.17" stroke-width="0.98"/><line x1="519.75" y1="149.33" x2="523.29" y2="149.33" stroke-width="0.98"/><line x1="524.46" y1="160.28" x2="526.29" y2="163.45"/><line x1="521.52" y1="139.80" x2="508.18" y2="132.10"/><line x1="446.26" y1="137.05" x2="454.84" y2="132.10"/><line x1="454.84" y1="132.10" x2="454.84" y2="116.70"/><line x1="454.84" y1="116.70" x2="441.50" y2="109.00"/><line x1="441.50" y1="109.00" x2="428.16" y2="116.70"/><line x1="428.16" y1="116.70" x2="428.16" y2="132.10"/><line x1="428.16" y1="132.10" x2="436.74" y2="137.05"/><line x1="425.97" y1="114.15" x2="424.86" y2="116.07" stroke-width="0.98"/><line x1="424.14" y1="112.84" x2="422.81" y2="115.14" stroke-width="0.98"/><line x1="422.30" y1="111.53" x2="420.75" y2="114.21" stroke-width="0.98"/><line x1="420.47" y1="110.21" x2="418.70" y2="113.28" stroke-width="0.98"/><polygon points="428.16,132.10 413.67,137.80 415.98,141.80" fill="#363636" stroke="none"/><line x1="414.83" y1="139.80" x2="406.25" y2="134.85"/><line x1="414.83" y1="139.80" x2="414.83" y2="149.33"/><line x1="454.84" y1="132.10" x2="468.17" y2="139.80"/><line x1="453.73" y1="135.15" x2="455.95" y2="135.15" stroke-width="0.98"/><line x1="453.51" y1="137.31" x2="456.17" y2="137.31" stroke-width="0.98"/><line x1="453.29" y1="139.47" x2="456.39" y2="139.47" stroke-width="0.98"/><line x1="453.07" y1="141.63" x2="456.61" y2="141.63" stroke-width="0.98"/><polygon points="441.50,109.00 443.81,98.30 439.19,98.30" fill="#363636" stroke="none"/><line x1="436.74" y1="90.85" x2="428.16" y2="85.90"/><line x1="429.93" y1="85.90" x2="429.93" y2="76.37"/><line x1="426.39" y1="85.90" x2="426.39" y2="76.37"/><line x1="428.16" y1="85.90" x2="414.83" y2="93.60"/><line x1="414.83" y1="93.60" x2="401.49" y2="85.90"/><line x1="411.15" y1="95.04" x2="402.08" y2="89.80"/><line x1="401.49" y1="85.90" x2="388.15" y2="93.60"/><line x1="386.38" y1="93.60" x2="386.38" y2="103.13"/><line x1="389.92" y1="93.60" x2="389.92" y2="103.13"/><line x1="388.15" y1="93.60" x2="379.57" y2="88.65"/></g>
<text x="465.06" y="158.99" font-size="9.47" fill="#767676" stroke="#767676" stroke-width="0.09">C</text>
<text x="472.27" y="158.99" font-size="9.47" fill="#767676" stroke="#767676" stroke-width="0.09">H</text>
<text x="479.48" y="160.88" font-size="7.57" fill="#767676" stroke="#767676" stroke-width="0.09">3</text>
<text x="478.13" y="120.49" font-size="9.47" fill="#e8212e" stroke="#e8212e" stroke-width="0.24">O</text>
<text x="485.87" y="120.49" font-size="9.47" fill="#e8212e" stroke="#e8212e" stroke-width="0.24">H</text>
<text x="491.73" y="158.99" font-size="9.47" fill="#767676" stroke="#767676" stroke-width="0.09">C</text>
<text x="498.94" y="158.99" font-size="9.47" fill="#767676" stroke="#767676" stroke-width="0.09">H</text>
<text x="506.16" y="160.88" font-size="7.57" fill="#767676" stroke="#767676" stroke-width="0.09">3</text>
<text x="505.07" y="151.29" font-size="9.47" fill="#1a1a1a" stroke="#1a1a1a" stroke-width="0.24">H</text>
<text x="504.80" y="120.49" font-size="9.47" fill="#e8212e" stroke="#e8212e" stroke-width="0.24">O</text>
<text x="531.47" y="120.49" font-size="9.47" fill="#e8212e" stroke="#e8212e" stroke-width="0.24">O</text>
<text x="504.80" y="89.69" font-size="9.47" fill="#e8212e" stroke="#e8212e" stroke-width="0.24">O</text>
<text x="478.99" y="89.69" font-size="9.47" fill="#767676" stroke="#767676" stroke-width="0.09">H</text>
<text x="486.21" y="91.58" font-size="7.57" fill="#767676" stroke="#767676" stroke-width="0.09">3</text>
<text x="490.80" y="89.69" font-size="9.47" fill="#767676" stroke="#767676" stroke-width="0.09">C</text>
<text x="545.08" y="112.79" font-size="9.47" fill="#767676" stroke="#767676" stroke-width="0.09">C</text>
<text x="552.29" y="112.79" font-size="9.47" fill="#767676" stroke="#767676" stroke-width="0.09">H</text>
<text x="559.51" y="114.68" font-size="7.57" fill="#767676" stroke="#767676" stroke-width="0.09">3</text>
<text x="585.09" y="89.69" font-size="9.47" fill="#767676" stroke="#767676" stroke-width="0.09">C</text>
<text x="592.30" y="89.69" font-size="9.47" fill="#767676" stroke="#767676" stroke-width="0.09">H</text>
<text x="599.52" y="91.58" font-size="7.57" fill="#767676" stroke="#767676" stroke-width="0.09">3</text>
<text x="550.93" y="120.49" font-size="9.47" fill="#e8212e" stroke="#e8212e" stroke-width="0.24">H</text>
<text x="558.15" y="120.49" font-size="9.47" fill="#e8212e" stroke="#e8212e" stroke-width="0.24">O</text>
<text x="598.42" y="112.79" font-size="9.47" fill="#767676" stroke="#767676" stroke-width="0.09">C</text>
<text x="605.64" y="112.79" font-size="9.47" fill="#767676" stroke="#767676" stroke-width="0.09">H</text>
<text x="612.85" y="114.68" font-size="7.57" fill="#767676" stroke="#767676" stroke-width="0.09">3</text>
<text x="571.75" y="158.99" font-size="9.47" fill="#767676" stroke="#767676" stroke-width="0.09">C</text>
<text x="578.96" y="158.99" font-size="9.47" fill="#767676" stroke="#767676" stroke-width="0.09">H</text>
<text x="586.18" y="160.88" font-size="7.57" fill="#767676" stroke="#767676" stroke-width="0.09">3</text>
<text x="518.14" y="158.99" font-size="9.47" fill="#e8212e" stroke="#e8212e" stroke-width="0.24">O</text>
<text x="526.10" y="172.33" font-size="9.47" fill="#767676" stroke="#767676" stroke-width="0.09">C</text>
<text x="533.32" y="172.33" font-size="9.47" fill="#767676" stroke="#767676" stroke-width="0.09">H</text>
<text x="540.53" y="174.22" font-size="7.57" fill="#767676" stroke="#767676" stroke-width="0.09">3</text>
<text x="438.12" y="143.59" font-size="9.47" fill="#e8212e" stroke="#e8212e" stroke-width="0.24">O</text>
<text x="399.90" y="112.79" font-size="9.47" fill="#767676" stroke="#767676" stroke-width="0.09">H</text>
<text x="407.12" y="114.68" font-size="7.57" fill="#767676" stroke="#767676" stroke-width="0.09">3</text>
<text x="411.71" y="112.79" font-size="9.47" fill="#767676" stroke="#767676" stroke-width="0.09">C</text>
<text x="386.57" y="135.89" font-size="9.47" fill="#767676" stroke="#767676" stroke-width="0.09">H</text>
<text x="393.78" y="137.78" font-size="7.57" fill="#767676" stroke="#767676" stroke-width="0.09">3</text>
<text x="398.37" y="135.89" font-size="9.47" fill="#767676" stroke="#767676" stroke-width="0.09">C</text>
<text x="411.71" y="158.99" font-size="9.47" fill="#767676" stroke="#767676" stroke-width="0.09">C</text>
<text x="418.92" y="158.99" font-size="9.47" fill="#767676" stroke="#767676" stroke-width="0.09">H</text>
<text x="426.14" y="160.88" font-size="7.57" fill="#767676" stroke="#767676" stroke-width="0.09">3</text>
<text x="451.45" y="151.29" font-size="9.47" fill="#e8212e" stroke="#e8212e" stroke-width="0.24">O</text>
<text x="459.20" y="151.29" font-size="9.47" fill="#e8212e" stroke="#e8212e" stroke-width="0.24">H</text>
<text x="438.12" y="97.39" font-size="9.47" fill="#e8212e" stroke="#e8212e" stroke-width="0.24">O</text>
<text x="424.78" y="74.29" font-size="9.47" fill="#e8212e" stroke="#e8212e" stroke-width="0.24">O</text>
<text x="384.77" y="112.79" font-size="9.47" fill="#e8212e" stroke="#e8212e" stroke-width="0.24">O</text>
<text x="364.22" y="89.69" font-size="9.47" fill="#e8212e" stroke="#e8212e" stroke-width="0.24">H</text>
<text x="371.43" y="89.69" font-size="9.47" fill="#e8212e" stroke="#e8212e" stroke-width="0.24">O</text>
<g stroke="#363636" stroke-width="1.31" stroke-linecap="butt"><line x1="572.60" y1="272.80" x2="572.60" y2="282.33"/><line x1="463.49" y1="275.85" x2="465.71" y2="275.85" stroke-width="0.98"/><line x1="463.27" y1="278.01" x2="465.93" y2="278.01" stroke-width="0.98"/><line x1="463.05" y1="280.17" x2="466.15" y2="280.17" stroke-width="0.98"/><line x1="462.83" y1="282.33" x2="466.37" y2="282.33" stroke-width="0.98"/><line x1="464.60" y1="272.80" x2="478.10" y2="265.10"/><line x1="479.21" y1="262.05" x2="476.99" y2="262.05" stroke-width="0.98"/><line x1="479.43" y1="259.89" x2="476.77" y2="259.89" stroke-width="0.98"/><line x1="479.65" y1="257.73" x2="476.55" y2="257.73" stroke-width="0.98"/><line x1="479.87" y1="255.57" x2="476.33" y2="255.57" stroke-width="0.98"/><line x1="478.10" y1="265.10" x2="491.60" y2="272.80"/><polygon points="491.60,272.80 489.29,283.50 493.91,283.50" fill="#363636" stroke="none"/><line x1="491.60" y1="272.80" x2="505.10" y2="265.10"/><line x1="503.99" y1="268.15" x2="506.21" y2="268.15" stroke-width="0.98"/><line x1="503.77" y1="270.31" x2="506.43" y2="270.31" stroke-width="0.98"/><line x1="503.55" y1="272.47" x2="506.65" y2="272.47" stroke-width="0.98"/><line x1="503.33" y1="274.63" x2="506.87" y2="274.63" stroke-width="0.98"/><line x1="505.10" y1="265.10" x2="505.10" y2="255.57"/><line x1="509.86" y1="246.99" x2="518.60" y2="242.00"/><line x1="517.72" y1="243.54" x2="526.46" y2="248.52"/><line x1="519.48" y1="240.46" x2="528.22" y2="245.45"/><line x1="518.60" y1="242.00" x2="518.60" y2="226.60"/><line x1="518.60" y1="226.60" x2="509.86" y2="221.61"/><line x1="501.12" y1="218.90" x2="494.63" y2="218.90"/><line x1="518.60" y1="226.60" x2="532.10" y2="218.90"/><line x1="522.27" y1="228.05" x2="531.49" y2="222.80"/><line x1="532.10" y1="218.90" x2="545.60" y2="226.60"/><line x1="545.60" y1="226.60" x2="545.60" y2="236.13"/><line x1="545.60" y1="226.60" x2="559.10" y2="218.90"/><line x1="549.27" y1="228.05" x2="558.49" y2="222.80"/><line x1="559.10" y1="218.90" x2="572.60" y2="226.60"/><polygon points="572.60,226.60 583.44,223.08 581.15,219.06" fill="#363636" stroke="none"/><line x1="572.60" y1="226.60" x2="572.60" y2="242.00"/><polygon points="572.60,242.00 561.76,245.52 564.05,249.54" fill="#363636" stroke="none"/><line x1="572.60" y1="242.00" x2="586.10" y2="249.70"/><polygon points="586.10,249.70 596.94,246.18 594.65,242.16" fill="#363636" stroke="none"/><line x1="586.10" y1="249.70" x2="586.10" y2="265.10"/><line x1="586.10" y1="265.10" x2="572.60" y2="272.80"/><line x1="572.60" y1="272.80" x2="559.10" y2="265.10"/><line x1="568.93" y1="274.25" x2="559.71" y2="269.00"/><line x1="559.10" y1="265.10" x2="545.60" y2="272.80"/><line x1="545.60" y1="272.80" x2="532.10" y2="265.10"/><line x1="544.99" y1="268.90" x2="535.77" y2="263.65"/><line x1="532.10" y1="265.10" x2="518.60" y2="272.80"/><line x1="517.49" y1="275.85" x2="519.71" y2="275.85" stroke-width="0.98"/><line x1="517.27" y1="278.01" x2="519.93" y2="278.01" stroke-width="0.98"/><line x1="517.05" y1="280.17" x2="520.15" y2="280.17" stroke-width="0.98"/><line x1="516.83" y1="282.33" x2="520.37" y2="282.33" stroke-width="0.98"/><line x1="521.56" y1="293.27" x2="523.43" y2="296.47"/><line x1="518.60" y1="272.80" x2="505.10" y2="265.10"/><line x1="442.36" y1="270.09" x2="451.10" y2="265.10"/><line x1="451.10" y1="265.10" x2="451.10" y2="249.70"/><line x1="451.10" y1="249.70" x2="437.60" y2="242.00"/><line x1="437.60" y1="242.00" x2="424.10" y2="249.70"/><line x1="424.10" y1="249.70" x2="424.10" y2="265.10"/><line x1="424.10" y1="265.10" x2="432.84" y2="270.09"/><line x1="421.85" y1="247.14" x2="420.75" y2="249.07" stroke-width="0.98"/><line x1="419.98" y1="245.82" x2="418.66" y2="248.13" stroke-width="0.98"/><line x1="418.11" y1="244.50" x2="416.57" y2="247.19" stroke-width="0.98"/><line x1="416.24" y1="243.18" x2="414.48" y2="246.25" stroke-width="0.98"/><polygon points="424.10,265.10 409.46,270.79 411.74,274.81" fill="#363636" stroke="none"/><line x1="410.60" y1="272.80" x2="401.86" y2="267.81"/><line x1="410.60" y1="272.80" x2="410.60" y2="282.33"/><line x1="451.10" y1="265.10" x2="464.60" y2="272.80"/><line x1="449.99" y1="268.15" x2="452.21" y2="268.15" stroke-width="0.98"/><line x1="449.77" y1="270.31" x2="452.43" y2="270.31" stroke-width="0.98"/><line x1="449.55" y1="272.47" x2="452.65" y2="272.47" stroke-width="0.98"/><line x1="449.33" y1="274.63" x2="452.87" y2="274.63" stroke-width="0.98"/><line x1="446.34" y1="283.21" x2="442.36" y2="285.49"/><polygon points="437.60,242.00 439.91,231.30 435.29,231.30" fill="#363636" stroke="none"/><line x1="432.84" y1="223.89" x2="424.10" y2="218.90"/><line x1="425.87" y1="218.90" x2="425.87" y2="209.37"/><line x1="422.33" y1="218.90" x2="422.33" y2="209.37"/><line x1="424.10" y1="218.90" x2="410.60" y2="226.60"/><line x1="410.60" y1="226.60" x2="397.10" y2="218.90"/><line x1="406.93" y1="228.05" x2="397.71" y2="222.80"/><line x1="397.10" y1="218.90" x2="383.60" y2="226.60"/><line x1="381.83" y1="226.60" x2="381.83" y2="236.13"/><line x1="385.37" y1="226.60" x2="385.37" y2="236.13"/><line x1="383.60" y1="226.60" x2="374.86" y2="221.61"/></g>
<text x="461.48" y="291.99" font-size="9.47" fill="#767676" stroke="#767676" stroke-width="0.09">C</text>
<text x="468.70" y="291.99" font-size="9.47" fill="#767676" stroke="#767676" stroke-width="0.09">H</text>
<text x="475.91" y="293.88" font-size="7.57" fill="#767676" stroke="#767676" stroke-width="0.09">3</text>
<text x="474.72" y="253.49" font-size="9.47" fill="#e8212e" stroke="#e8212e" stroke-width="0.24">O</text>
<text x="482.46" y="253.49" font-size="9.47" fill="#e8212e" stroke="#e8212e" stroke-width="0.24">H</text>
<text x="488.48" y="291.99" font-size="9.47" fill="#767676" stroke="#767676" stroke-width="0.09">C</text>
<text x="495.70" y="291.99" font-size="9.47" fill="#767676" stroke="#767676" stroke-width="0.09">H</text>
<text x="502.91" y="293.88" font-size="7.57" fill="#767676" stroke="#767676" stroke-width="0.09">3</text>
<text x="501.98" y="284.29" font-size="9.47" fill="#1a1a1a" stroke="#1a1a1a" stroke-width="0.24">H</text>
<text x="501.72" y="253.49" font-size="9.47" fill="#e8212e" stroke="#e8212e" stroke-width="0.24">O</text>
<text x="528.72" y="253.49" font-size="9.47" fill="#e8212e" stroke="#e8212e" stroke-width="0.24">O</text>
<text x="501.72" y="222.69" font-size="9.47" fill="#e8212e" stroke="#e8212e" stroke-width="0.24">O</text>
<text x="475.73" y="222.69" font-size="9.47" fill="#767676" stroke="#767676" stroke-width="0.09">H</text>
<text x="482.95" y="224.58" font-size="7.57" fill="#767676" stroke="#767676" stroke-width="0.09">3</text>
<text x="487.54" y="222.69" font-size="9.47" fill="#767676" stroke="#767676" stroke-width="0.09">C</text>
<text x="542.48" y="245.79" font-size="9.47" fill="#767676" stroke="#767676" stroke-width="0.09">C</text>
<text x="549.70" y="245.79" font-size="9.47" fill="#767676" stroke="#767676" stroke-width="0.09">H</text>
<text x="556.91" y="247.68" font-size="7.57" fill="#767676" stroke="#767676" stroke-width="0.09">3</text>
<text x="582.98" y="222.69" font-size="9.47" fill="#767676" stroke="#767676" stroke-width="0.09">C</text>
<text x="590.20" y="222.69" font-size="9.47" fill="#767676" stroke="#767676" stroke-width="0.09">H</text>
<text x="597.41" y="224.58" font-size="7.57" fill="#767676" stroke="#767676" stroke-width="0.09">3</text>
<text x="548.50" y="253.49" font-size="9.47" fill="#e8212e" stroke="#e8212e" stroke-width="0.24">H</text>
<text x="555.72" y="253.49" font-size="9.47" fill="#e8212e" stroke="#e8212e" stroke-width="0.24">O</text>
<text x="596.48" y="245.79" font-size="9.47" fill="#767676" stroke="#767676" stroke-width="0.09">C</text>
<text x="603.70" y="245.79" font-size="9.47" fill="#767676" stroke="#767676" stroke-width="0.09">H</text>
<text x="610.91" y="247.68" font-size="7.57" fill="#767676" stroke="#767676" stroke-width="0.09">3</text>
<text x="569.48" y="291.99" font-size="9.47" fill="#767676" stroke="#767676" stroke-width="0.09">C</text>
<text x="576.70" y="291.99" font-size="9.47" fill="#767676" stroke="#767676" stroke-width="0.09">H</text>
<text x="583.91" y="293.88" font-size="7.57" fill="#767676" stroke="#767676" stroke-width="0.09">3</text>
<text x="515.22" y="291.99" font-size="9.47" fill="#e8212e" stroke="#e8212e" stroke-width="0.24">O</text>
<text x="523.28" y="305.33" font-size="9.47" fill="#767676" stroke="#767676" stroke-width="0.09">C</text>
<text x="530.49" y="305.33" font-size="9.47" fill="#767676" stroke="#767676" stroke-width="0.09">H</text>
<text x="537.71" y="307.22" font-size="7.57" fill="#767676" stroke="#767676" stroke-width="0.09">3</text>
<text x="434.22" y="276.59" font-size="9.47" fill="#e8212e" stroke="#e8212e" stroke-width="0.24">O</text>
<text x="395.68" y="245.79" font-size="9.47" fill="#767676" stroke="#767676" stroke-width="0.09">H</text>
<text x="402.89" y="247.68" font-size="7.57" fill="#767676" stroke="#767676" stroke-width="0.09">3</text>
<text x="407.48" y="245.79" font-size="9.47" fill="#767676" stroke="#767676" stroke-width="0.09">C</text>
<text x="382.18" y="268.89" font-size="9.47" fill="#767676" stroke="#767676" stroke-width="0.09">H</text>
<text x="389.39" y="270.78" font-size="7.57" fill="#767676" stroke="#767676" stroke-width="0.09">3</text>
<text x="393.98" y="268.89" font-size="9.47" fill="#767676" stroke="#767676" stroke-width="0.09">C</text>
<text x="407.48" y="291.99" font-size="9.47" fill="#767676" stroke="#767676" stroke-width="0.09">C</text>
<text x="414.70" y="291.99" font-size="9.47" fill="#767676" stroke="#767676" stroke-width="0.09">H</text>
<text x="421.91" y="293.88" font-size="7.57" fill="#767676" stroke="#767676" stroke-width="0.09">3</text>
<text x="447.72" y="284.29" font-size="9.47" fill="#e8212e" stroke="#e8212e" stroke-width="0.24">O</text>
<text x="422.68" y="291.99" font-size="9.47" fill="#767676" stroke="#767676" stroke-width="0.09">H</text>
<text x="429.89" y="293.88" font-size="7.57" fill="#767676" stroke="#767676" stroke-width="0.09">3</text>
<text x="434.48" y="291.99" font-size="9.47" fill="#767676" stroke="#767676" stroke-width="0.09">C</text>
<text x="434.22" y="230.39" font-size="9.47" fill="#e8212e" stroke="#e8212e" stroke-width="0.24">O</text>
<text x="420.72" y="207.29" font-size="9.47" fill="#e8212e" stroke="#e8212e" stroke-width="0.24">O</text>
<text x="380.22" y="245.79" font-size="9.47" fill="#e8212e" stroke="#e8212e" stroke-width="0.24">O</text>
<text x="359.50" y="222.69" font-size="9.47" fill="#e8212e" stroke="#e8212e" stroke-width="0.24">H</text>
<text x="366.72" y="222.69" font-size="9.47" fill="#e8212e" stroke="#e8212e" stroke-width="0.24">O</text>
<g stroke="#363636" stroke-width="1.31" stroke-linecap="butt"><line x1="572.67" y1="409.90" x2="572.67" y2="419.43"/><line x1="464.86" y1="412.95" x2="467.08" y2="412.95" stroke-width="0.98"/><line x1="464.64" y1="415.11" x2="467.30" y2="415.11" stroke-width="0.98"/><line x1="464.42" y1="417.27" x2="467.52" y2="417.27" stroke-width="0.98"/><line x1="464.20" y1="419.43" x2="467.74" y2="419.43" stroke-width="0.98"/><line x1="465.97" y1="409.90" x2="479.31" y2="402.20"/><line x1="480.42" y1="399.15" x2="478.20" y2="399.15" stroke-width="0.98"/><line x1="480.64" y1="396.99" x2="477.98" y2="396.99" stroke-width="0.98"/><line x1="480.86" y1="394.83" x2="477.76" y2="394.83" stroke-width="0.98"/><line x1="481.08" y1="392.67" x2="477.54" y2="392.67" stroke-width="0.98"/><line x1="479.31" y1="402.20" x2="492.65" y2="409.90"/><polygon points="492.65,409.90 490.34,420.60 494.96,420.60" fill="#363636" stroke="none"/><line x1="492.65" y1="409.90" x2="505.98" y2="402.20"/><line x1="504.88" y1="405.25" x2="507.09" y2="405.25" stroke-width="0.98"/><line x1="504.65" y1="407.41" x2="507.31" y2="407.41" stroke-width="0.98"/><line x1="504.43" y1="409.57" x2="507.53" y2="409.57" stroke-width="0.98"/><line x1="504.21" y1="411.73" x2="507.75" y2="411.73" stroke-width="0.98"/><line x1="505.98" y1="402.20" x2="505.98" y2="392.67"/><line x1="510.74" y1="384.05" x2="519.32" y2="379.10"/><line x1="518.44" y1="380.63" x2="527.02" y2="385.59"/><line x1="520.21" y1="377.57" x2="528.79" y2="382.52"/><line x1="519.32" y1="379.10" x2="519.32" y2="363.70"/><line x1="519.32" y1="363.70" x2="510.74" y2="358.75"/><line x1="502.01" y1="356.00" x2="495.69" y2="356.00"/><line x1="519.32" y1="363.70" x2="532.66" y2="356.00"/><line x1="522.99" y1="365.14" x2="532.06" y2="359.90"/><line x1="532.66" y1="356.00" x2="545.99" y2="363.70"/><line x1="545.99" y1="363.70" x2="545.99" y2="373.23"/><line x1="545.99" y1="363.70" x2="559.33" y2="356.00"/><line x1="549.67" y1="365.14" x2="558.74" y2="359.90"/><line x1="559.33" y1="356.00" x2="572.67" y2="363.70"/><polygon points="572.67,363.70 583.36,360.20 581.05,356.20" fill="#363636" stroke="none"/><line x1="572.67" y1="363.70" x2="572.67" y2="379.10"/><polygon points="572.67,379.10 561.98,382.60 564.29,386.60" fill="#363636" stroke="none"/><line x1="572.67" y1="379.10" x2="586.00" y2="386.80"/><polygon points="586.00,386.80 596.69,383.30 594.38,379.30" fill="#363636" stroke="none"/><line x1="586.00" y1="386.80" x2="586.00" y2="402.20"/><line x1="586.00" y1="402.20" x2="572.67" y2="409.90"/><line x1="572.67" y1="409.90" x2="559.33" y2="402.20"/><line x1="568.99" y1="411.34" x2="559.93" y2="406.10"/><line x1="559.33" y1="402.20" x2="545.99" y2="409.90"/><line x1="545.99" y1="409.90" x2="532.66" y2="402.20"/><line x1="545.40" y1="406.00" x2="536.33" y2="400.76"/><line x1="532.66" y1="402.20" x2="519.32" y2="409.90"/><line x1="518.21" y1="412.95" x2="520.43" y2="412.95" stroke-width="0.98"/><line x1="517.99" y1="415.11" x2="520.65" y2="415.11" stroke-width="0.98"/><line x1="517.77" y1="417.27" x2="520.87" y2="417.27" stroke-width="0.98"/><line x1="517.55" y1="419.43" x2="521.09" y2="419.43" stroke-width="0.98"/><line x1="522.26" y1="430.38" x2="524.09" y2="433.55"/><line x1="519.32" y1="409.90" x2="505.98" y2="402.20"/><line x1="444.06" y1="407.15" x2="452.64" y2="402.20"/><line x1="452.64" y1="402.20" x2="452.64" y2="386.80"/><line x1="452.64" y1="386.80" x2="439.30" y2="379.10"/><line x1="439.30" y1="379.10" x2="425.96" y2="386.80"/><line x1="425.96" y1="386.80" x2="425.96" y2="402.20"/><line x1="425.96" y1="402.20" x2="434.54" y2="407.15"/><line x1="423.77" y1="384.25" x2="422.66" y2="386.17" stroke-width="0.98"/><line x1="421.94" y1="382.94" x2="420.61" y2="385.24" stroke-width="0.98"/><line x1="420.10" y1="381.63" x2="418.55" y2="384.31" stroke-width="0.98"/><line x1="418.27" y1="380.31" x2="416.50" y2="383.38" stroke-width="0.98"/><polygon points="425.96,402.20 411.47,407.90 413.78,411.90" fill="#363636" stroke="none"/><line x1="412.63" y1="409.90" x2="404.05" y2="404.95"/><line x1="412.63" y1="409.90" x2="412.63" y2="419.43"/><line x1="452.64" y1="402.20" x2="465.97" y2="409.90"/><line x1="451.53" y1="405.25" x2="453.75" y2="405.25" stroke-width="0.98"/><line x1="451.31" y1="407.41" x2="453.97" y2="407.41" stroke-width="0.98"/><line x1="451.09" y1="409.57" x2="454.19" y2="409.57" stroke-width="0.98"/><line x1="450.87" y1="411.73" x2="454.41" y2="411.73" stroke-width="0.98"/><polygon points="439.30,379.10 441.61,368.40 436.99,368.40" fill="#363636" stroke="none"/><line x1="434.54" y1="360.95" x2="425.96" y2="356.00"/><line x1="427.73" y1="356.00" x2="427.73" y2="346.47"/><line x1="424.19" y1="356.00" x2="424.19" y2="346.47"/><line x1="425.96" y1="356.00" x2="412.63" y2="363.70"/><line x1="412.63" y1="363.70" x2="399.29" y2="356.00"/><line x1="408.95" y1="365.14" x2="399.88" y2="359.90"/><line x1="399.29" y1="356.00" x2="385.95" y2="363.70"/><line x1="384.18" y1="363.70" x2="384.18" y2="373.23"/><line x1="387.72" y1="363.70" x2="387.72" y2="373.23"/><line x1="385.95" y1="363.70" x2="377.37" y2="358.75"/></g>
<text x="462.86" y="429.09" font-size="9.47" fill="#767676" stroke="#767676" stroke-width="0.09">C</text>
<text x="470.07" y="429.09" font-size="9.47" fill="#767676" stroke="#767676" stroke-width="0.09">H</text>
<text x="477.28" y="430.98" font-size="7.57" fill="#767676" stroke="#767676" stroke-width="0.09">3</text>
<text x="475.93" y="390.59" font-size="9.47" fill="#e8212e" stroke="#e8212e" stroke-width="0.24">O</text>
<text x="483.67" y="390.59" font-size="9.47" fill="#e8212e" stroke="#e8212e" stroke-width="0.24">H</text>
<text x="489.53" y="429.09" font-size="9.47" fill="#767676" stroke="#767676" stroke-width="0.09">C</text>
<text x="496.74" y="429.09" font-size="9.47" fill="#767676" stroke="#767676" stroke-width="0.09">H</text>
<text x="503.96" y="430.98" font-size="7.57" fill="#767676" stroke="#767676" stroke-width="0.09">3</text>
<text x="502.87" y="421.39" font-size="9.47" fill="#1a1a1a" stroke="#1a1a1a" stroke-width="0.24">H</text>
<text x="502.60" y="390.59" font-size="9.47" fill="#e8212e" stroke="#e8212e" stroke-width="0.24">O</text>
<text x="529.27" y="390.59" font-size="9.47" fill="#e8212e" stroke="#e8212e" stroke-width="0.24">O</text>
<text x="502.60" y="359.79" font-size="9.47" fill="#e8212e" stroke="#e8212e" stroke-width="0.24">O</text>
<text x="476.79" y="359.79" font-size="9.47" fill="#767676" stroke="#767676" stroke-width="0.09">H</text>
<text x="484.01" y="361.68" font-size="7.57" fill="#767676" stroke="#767676" stroke-width="0.09">3</text>
<text x="488.60" y="359.79" font-size="9.47" fill="#767676" stroke="#767676" stroke-width="0.09">C</text>
<text x="542.88" y="382.89" font-size="9.47" fill="#767676" stroke="#767676" stroke-width="0.09">C</text>
<text x="550.09" y="382.89" font-size="9.47" fill="#767676" stroke="#767676" stroke-width="0.09">H</text>
<text x="557.31" y="384.78" font-size="7.57" fill="#767676" stroke="#767676" stroke-width="0.09">3</text>
<text x="582.89" y="359.79" font-size="9.47" fill="#767676" stroke="#767676" stroke-width="0.09">C</text>
<text x="590.10" y="359.79" font-size="9.47" fill="#767676" stroke="#767676" stroke-width="0.09">H</text>
<text x="597.32" y="361.68" font-size="7.57" fill="#767676" stroke="#767676" stroke-width="0.09">3</text>
<text x="548.73" y="390.59" font-size="9.47" fill="#e8212e" stroke="#e8212e" stroke-width="0.24">H</text>
<text x="555.95" y="390.59" font-size="9.47" fill="#e8212e" stroke="#e8212e" stroke-width="0.24">O</text>
<text x="596.22" y="382.89" font-size="9.47" fill="#767676" stroke="#767676" stroke-width="0.09">C</text>
<text x="603.44" y="382.89" font-size="9.47" fill="#767676" stroke="#767676" stroke-width="0.09">H</text>
<text x="610.65" y="384.78" font-size="7.57" fill="#767676" stroke="#767676" stroke-width="0.09">3</text>
<text x="569.55" y="429.09" font-size="9.47" fill="#767676" stroke="#767676" stroke-width="0.09">C</text>
<text x="576.76" y="429.09" font-size="9.47" fill="#767676" stroke="#767676" stroke-width="0.09">H</text>
<text x="583.98" y="430.98" font-size="7.57" fill="#767676" stroke="#767676" stroke-width="0.09">3</text>
<text x="515.94" y="429.09" font-size="9.47" fill="#e8212e" stroke="#e8212e" stroke-width="0.24">O</text>
<text x="523.90" y="442.43" font-size="9.47" fill="#767676" stroke="#767676" stroke-width="0.09">C</text>
<text x="531.12" y="442.43" font-size="9.47" fill="#767676" stroke="#767676" stroke-width="0.09">H</text>
<text x="538.33" y="444.32" font-size="7.57" fill="#767676" stroke="#767676" stroke-width="0.09">3</text>
<text x="435.92" y="413.69" font-size="9.47" fill="#e8212e" stroke="#e8212e" stroke-width="0.24">O</text>
<text x="397.70" y="382.89" font-size="9.47" fill="#767676" stroke="#767676" stroke-width="0.09">H</text>
<text x="404.92" y="384.78" font-size="7.57" fill="#767676" stroke="#767676" stroke-width="0.09">3</text>
<text x="409.51" y="382.89" font-size="9.47" fill="#767676" stroke="#767676" stroke-width="0.09">C</text>
<text x="384.37" y="405.99" font-size="9.47" fill="#767676" stroke="#767676" stroke-width="0.09">H</text>
<text x="391.58" y="407.88" font-size="7.57" fill="#767676" stroke="#767676" stroke-width="0.09">3</text>
<text x="396.17" y="405.99" font-size="9.47" fill="#767676" stroke="#767676" stroke-width="0.09">C</text>
<text x="409.51" y="429.09" font-size="9.47" fill="#767676" stroke="#767676" stroke-width="0.09">C</text>
<text x="416.72" y="429.09" font-size="9.47" fill="#767676" stroke="#767676" stroke-width="0.09">H</text>
<text x="423.94" y="430.98" font-size="7.57" fill="#767676" stroke="#767676" stroke-width="0.09">3</text>
<text x="449.25" y="421.39" font-size="9.47" fill="#e8212e" stroke="#e8212e" stroke-width="0.24">O</text>
<text x="457.00" y="421.39" font-size="9.47" fill="#e8212e" stroke="#e8212e" stroke-width="0.24">H</text>
<text x="435.92" y="367.49" font-size="9.47" fill="#e8212e" stroke="#e8212e" stroke-width="0.24">O</text>
<text x="422.58" y="344.39" font-size="9.47" fill="#e8212e" stroke="#e8212e" stroke-width="0.24">O</text>
<text x="382.57" y="382.89" font-size="9.47" fill="#e8212e" stroke="#e8212e" stroke-width="0.24">O</text>
<text x="357.69" y="359.79" font-size="9.47" fill="#3a3ad0" stroke="#3a3ad0" stroke-width="0.24">H</text>
<text x="364.91" y="361.68" font-size="7.57" fill="#3a3ad0" stroke="#3a3ad0" stroke-width="0.24">2</text>
<text x="369.50" y="359.79" font-size="9.47" fill="#3a3ad0" stroke="#3a3ad0" stroke-width="0.24">N</text>
<g stroke="#363636" stroke-width="1.31" stroke-linecap="butt"><line x1="573.97" y1="568.40" x2="573.97" y2="577.93"/><line x1="466.16" y1="571.45" x2="468.38" y2="571.45" stroke-width="0.98"/><line x1="465.94" y1="573.61" x2="468.60" y2="573.61" stroke-width="0.98"/><line x1="465.72" y1="575.77" x2="468.82" y2="575.77" stroke-width="0.98"/><line x1="465.50" y1="577.93" x2="469.04" y2="577.93" stroke-width="0.98"/><line x1="467.27" y1="568.40" x2="480.61" y2="560.70"/><line x1="481.72" y1="557.65" x2="479.50" y2="557.65" stroke-width="0.98"/><line x1="481.94" y1="555.49" x2="479.28" y2="555.49" stroke-width="0.98"/><line x1="482.16" y1="553.33" x2="479.06" y2="553.33" stroke-width="0.98"/><line x1="482.38" y1="551.17" x2="478.84" y2="551.17" stroke-width="0.98"/><line x1="480.61" y1="560.70" x2="493.95" y2="568.40"/><polygon points="493.95,568.40 491.64,579.10 496.26,579.10" fill="#363636" stroke="none"/><line x1="493.95" y1="568.40" x2="507.28" y2="560.70"/><line x1="506.18" y1="563.75" x2="508.39" y2="563.75" stroke-width="0.98"/><line x1="505.95" y1="565.91" x2="508.61" y2="565.91" stroke-width="0.98"/><line x1="505.73" y1="568.07" x2="508.83" y2="568.07" stroke-width="0.98"/><line x1="505.51" y1="570.23" x2="509.05" y2="570.23" stroke-width="0.98"/><line x1="507.28" y1="560.70" x2="507.28" y2="551.17"/><line x1="512.04" y1="542.55" x2="520.62" y2="537.60"/><line x1="519.74" y1="539.13" x2="528.32" y2="544.09"/><line x1="521.51" y1="536.07" x2="530.09" y2="541.02"/><line x1="520.62" y1="537.60" x2="520.62" y2="522.20"/><line x1="520.62" y1="522.20" x2="512.04" y2="517.25"/><line x1="503.31" y1="514.50" x2="496.99" y2="514.50"/><line x1="520.62" y1="522.20" x2="533.96" y2="514.50"/><line x1="524.29" y1="523.64" x2="533.36" y2="518.40"/><line x1="533.96" y1="514.50" x2="547.29" y2="522.20"/><line x1="547.29" y1="522.20" x2="547.29" y2="531.73"/><line x1="547.29" y1="522.20" x2="560.63" y2="514.50"/><line x1="550.97" y1="523.64" x2="560.04" y2="518.40"/><line x1="560.63" y1="514.50" x2="573.97" y2="522.20"/><polygon points="573.97,522.20 584.66,518.70 582.35,514.70" fill="#363636" stroke="none"/><line x1="573.97" y1="522.20" x2="573.97" y2="537.60"/><polygon points="573.97,537.60 563.28,541.10 565.59,545.10" fill="#363636" stroke="none"/><line x1="573.97" y1="537.60" x2="587.30" y2="545.30"/><polygon points="587.30,545.30 597.99,541.80 595.68,537.80" fill="#363636" stroke="none"/><line x1="587.30" y1="545.30" x2="587.30" y2="560.70"/><line x1="587.30" y1="560.70" x2="573.97" y2="568.40"/><line x1="573.97" y1="568.40" x2="560.63" y2="560.70"/><line x1="570.29" y1="569.84" x2="561.23" y2="564.60"/><line x1="560.63" y1="560.70" x2="547.29" y2="568.40"/><line x1="547.29" y1="568.40" x2="533.96" y2="560.70"/><line x1="546.70" y1="564.50" x2="537.63" y2="559.26"/><line x1="533.96" y1="560.70" x2="520.62" y2="568.40"/><line x1="519.51" y1="571.45" x2="521.73" y2="571.45" stroke-width="0.98"/><line x1="519.29" y1="573.61" x2="521.95" y2="573.61" stroke-width="0.98"/><line x1="519.07" y1="575.77" x2="522.17" y2="575.77" stroke-width="0.98"/><line x1="518.85" y1="577.93" x2="522.39" y2="577.93" stroke-width="0.98"/><line x1="523.56" y1="588.88" x2="525.39" y2="592.05"/><line x1="520.62" y1="568.40" x2="507.28" y2="560.70"/><line x1="445.36" y1="565.65" x2="453.94" y2="560.70"/><line x1="453.94" y1="560.70" x2="453.94" y2="545.30"/><line x1="453.94" y1="545.30" x2="440.60" y2="537.60"/><line x1="440.60" y1="537.60" x2="427.26" y2="545.30"/><line x1="427.26" y1="545.30" x2="427.26" y2="560.70"/><line x1="427.26" y1="560.70" x2="435.84" y2="565.65"/><line x1="425.07" y1="542.75" x2="423.96" y2="544.67" stroke-width="0.98"/><line x1="423.24" y1="541.44" x2="421.91" y2="543.74" stroke-width="0.98"/><line x1="421.40" y1="540.13" x2="419.85" y2="542.81" stroke-width="0.98"/><line x1="419.57" y1="538.81" x2="417.80" y2="541.88" stroke-width="0.98"/><polygon points="427.26,560.70 412.77,566.40 415.08,570.40" fill="#363636" stroke="none"/><line x1="413.93" y1="568.40" x2="405.35" y2="563.45"/><line x1="413.93" y1="568.40" x2="413.93" y2="577.93"/><line x1="453.94" y1="560.70" x2="467.27" y2="568.40"/><line x1="452.83" y1="563.75" x2="455.05" y2="563.75" stroke-width="0.98"/><line x1="452.61" y1="565.91" x2="455.27" y2="565.91" stroke-width="0.98"/><line x1="452.39" y1="568.07" x2="455.49" y2="568.07" stroke-width="0.98"/><line x1="452.17" y1="570.23" x2="455.71" y2="570.23" stroke-width="0.98"/><line x1="449.18" y1="578.85" x2="445.36" y2="581.05"/><polygon points="440.60,537.60 442.91,526.90 438.29,526.90" fill="#363636" stroke="none"/><line x1="435.84" y1="519.45" x2="427.26" y2="514.50"/><line x1="429.03" y1="514.50" x2="429.03" y2="504.97"/><line x1="425.49" y1="514.50" x2="425.49" y2="504.97"/><line x1="427.26" y1="514.50" x2="413.93" y2="522.20"/><line x1="413.93" y1="522.20" x2="400.59" y2="514.50"/><line x1="410.25" y1="523.64" x2="401.18" y2="518.40"/><line x1="400.59" y1="514.50" x2="387.25" y2="522.20"/><line x1="385.48" y1="522.20" x2="385.48" y2="531.73"/><line x1="389.02" y1="522.20" x2="389.02" y2="531.73"/><line x1="387.25" y1="522.20" x2="378.67" y2="517.25"/></g>
<text x="464.16" y="587.59" font-size="9.47" fill="#767676" stroke="#767676" stroke-width="0.09">C</text>
<text x="471.37" y="587.59" font-size="9.47" fill="#767676" stroke="#767676" stroke-width="0.09">H</text>
<text x="478.58" y="589.48" font-size="7.57" fill="#767676" stroke="#767676" stroke-width="0.09">3</text>
<text x="477.23" y="549.09" font-size="9.47" fill="#e8212e" stroke="#e8212e" stroke-width="0.24">O</text>
<text x="484.97" y="549.09" font-size="9.47" fill="#e8212e" stroke="#e8212e" stroke-width="0.24">H</text>
<text x="490.83" y="587.59" font-size="9.47" fill="#767676" stroke="#767676" stroke-width="0.09">C</text>
<text x="498.04" y="587.59" font-size="9.47" fill="#767676" stroke="#767676" stroke-width="0.09">H</text>
<text x="505.26" y="589.48" font-size="7.57" fill="#767676" stroke="#767676" stroke-width="0.09">3</text>
<text x="504.17" y="579.89" font-size="9.47" fill="#1a1a1a" stroke="#1a1a1a" stroke-width="0.24">H</text>
<text x="503.90" y="549.09" font-size="9.47" fill="#e8212e" stroke="#e8212e" stroke-width="0.24">O</text>
<text x="530.57" y="549.09" font-size="9.47" fill="#e8212e" stroke="#e8212e" stroke-width="0.24">O</text>
<text x="503.90" y="518.29" font-size="9.47" fill="#e8212e" stroke="#e8212e" stroke-width="0.24">O</text>
<text x="478.09" y="518.29" font-size="9.47" fill="#767676" stroke="#767676" stroke-width="0.09">H</text>
<text x="485.31" y="520.18" font-size="7.57" fill="#767676" stroke="#767676" stroke-width="0.09">3</text>
<text x="489.90" y="518.29" font-size="9.47" fill="#767676" stroke="#767676" stroke-width="0.09">C</text>
<text x="544.18" y="541.39" font-size="9.47" fill="#767676" stroke="#767676" stroke-width="0.09">C</text>
<text x="551.39" y="541.39" font-size="9.47" fill="#767676" stroke="#767676" stroke-width="0.09">H</text>
<text x="558.61" y="543.28" font-size="7.57" fill="#767676" stroke="#767676" stroke-width="0.09">3</text>
<text x="584.19" y="518.29" font-size="9.47" fill="#767676" stroke="#767676" stroke-width="0.09">C</text>
<text x="591.40" y="518.29" font-size="9.47" fill="#767676" stroke="#767676" stroke-width="0.09">H</text>
<text x="598.62" y="520.18" font-size="7.57" fill="#767676" stroke="#767676" stroke-width="0.09">3</text>
<text x="550.03" y="549.09" font-size="9.47" fill="#e8212e" stroke="#e8212e" stroke-width="0.24">H</text>
<text x="557.25" y="549.09" font-size="9.47" fill="#e8212e" stroke="#e8212e" stroke-width="0.24">O</text>
<text x="597.52" y="541.39" font-size="9.47" fill="#767676" stroke="#767676" stroke-width="0.09">C</text>
<text x="604.74" y="541.39" font-size="9.47" fill="#767676" stroke="#767676" stroke-width="0.09">H</text>
<text x="611.95" y="543.28" font-size="7.57" fill="#767676" stroke="#767676" stroke-width="0.09">3</text>
<text x="570.85" y="587.59" font-size="9.47" fill="#767676" stroke="#767676" stroke-width="0.09">C</text>
<text x="578.06" y="587.59" font-size="9.47" fill="#767676" stroke="#767676" stroke-width="0.09">H</text>
<text x="585.28" y="589.48" font-size="7.57" fill="#767676" stroke="#767676" stroke-width="0.09">3</text>
<text x="517.24" y="587.59" font-size="9.47" fill="#e8212e" stroke="#e8212e" stroke-width="0.24">O</text>
<text x="525.20" y="600.93" font-size="9.47" fill="#767676" stroke="#767676" stroke-width="0.09">C</text>
<text x="532.42" y="600.93" font-size="9.47" fill="#767676" stroke="#767676" stroke-width="0.09">H</text>
<text x="539.63" y="602.82" font-size="7.57" fill="#767676" stroke="#767676" stroke-width="0.09">3</text>
<text x="437.22" y="572.19" font-size="9.47" fill="#e8212e" stroke="#e8212e" stroke-width="0.24">O</text>
<text x="399.00" y="541.39" font-size="9.47" fill="#767676" stroke="#767676" stroke-width="0.09">H</text>
<text x="406.22" y="543.28" font-size="7.57" fill="#767676" stroke="#767676" stroke-width="0.09">3</text>
<text x="410.81" y="541.39" font-size="9.47" fill="#767676" stroke="#767676" stroke-width="0.09">C</text>
<text x="385.67" y="564.49" font-size="9.47" fill="#767676" stroke="#767676" stroke-width="0.09">H</text>
<text x="392.88" y="566.38" font-size="7.57" fill="#767676" stroke="#767676" stroke-width="0.09">3</text>
<text x="397.47" y="564.49" font-size="9.47" fill="#767676" stroke="#767676" stroke-width="0.09">C</text>
<text x="410.81" y="587.59" font-size="9.47" fill="#767676" stroke="#767676" stroke-width="0.09">C</text>
<text x="418.02" y="587.59" font-size="9.47" fill="#767676" stroke="#767676" stroke-width="0.09">H</text>
<text x="425.24" y="589.48" font-size="7.57" fill="#767676" stroke="#767676" stroke-width="0.09">3</text>
<text x="450.55" y="579.89" font-size="9.47" fill="#e8212e" stroke="#e8212e" stroke-width="0.24">O</text>
<text x="425.68" y="587.59" font-size="9.47" fill="#767676" stroke="#767676" stroke-width="0.09">H</text>
<text x="432.89" y="589.48" font-size="7.57" fill="#767676" stroke="#767676" stroke-width="0.09">3</text>
<text x="437.48" y="587.59" font-size="9.47" fill="#767676" stroke="#767676" stroke-width="0.09">C</text>
<text x="437.22" y="525.99" font-size="9.47" fill="#e8212e" stroke="#e8212e" stroke-width="0.24">O</text>
<text x="423.88" y="502.89" font-size="9.47" fill="#e8212e" stroke="#e8212e" stroke-width="0.24">O</text>
<text x="383.87" y="541.39" font-size="9.47" fill="#e8212e" stroke="#e8212e" stroke-width="0.24">O</text>
<text x="358.99" y="518.29" font-size="9.47" fill="#3a3ad0" stroke="#3a3ad0" stroke-width="0.24">H</text>
<text x="366.21" y="520.18" font-size="7.57" fill="#3a3ad0" stroke="#3a3ad0" stroke-width="0.24">2</text>
<text x="370.80" y="518.29" font-size="9.47" fill="#3a3ad0" stroke="#3a3ad0" stroke-width="0.24">N</text>
<g stroke="#363636" stroke-width="1.64" stroke-linecap="butt"><line x1="867.73" y1="116.20" x2="878.79" y2="122.69"/><line x1="851.10" y1="125.96" x2="851.10" y2="145.48"/><line x1="851.10" y1="145.48" x2="862.16" y2="151.97"/><line x1="716.81" y1="130.00" x2="719.31" y2="130.00" stroke-width="1.23"/><line x1="716.56" y1="132.87" x2="719.56" y2="132.87" stroke-width="1.23"/><line x1="716.31" y1="135.73" x2="719.81" y2="135.73" stroke-width="1.23"/><line x1="716.06" y1="138.59" x2="720.06" y2="138.59" stroke-width="1.23"/><line x1="718.06" y1="125.96" x2="734.69" y2="116.20"/><line x1="735.94" y1="112.16" x2="733.44" y2="112.16" stroke-width="1.23"/><line x1="736.19" y1="109.29" x2="733.19" y2="109.29" stroke-width="1.23"/><line x1="736.44" y1="106.43" x2="732.94" y2="106.43" stroke-width="1.23"/><line x1="736.69" y1="103.57" x2="732.69" y2="103.57" stroke-width="1.23"/><line x1="734.69" y1="116.20" x2="751.32" y2="125.96"/><polygon points="751.32,125.96 748.42,139.97 754.21,139.97" fill="#363636" stroke="none"/><line x1="751.32" y1="125.96" x2="767.95" y2="116.20"/><line x1="766.70" y1="119.93" x2="769.20" y2="119.93" stroke-width="1.23"/><line x1="766.45" y1="122.57" x2="769.45" y2="122.57" stroke-width="1.23"/><line x1="766.20" y1="125.22" x2="769.70" y2="125.22" stroke-width="1.23"/><line x1="765.95" y1="127.86" x2="769.95" y2="127.86" stroke-width="1.23"/><line x1="767.95" y1="116.20" x2="767.95" y2="103.57"/><line x1="773.52" y1="93.41" x2="784.58" y2="86.92"/><line x1="783.46" y1="88.83" x2="794.51" y2="95.32"/><line x1="785.70" y1="85.01" x2="796.76" y2="91.49"/><line x1="784.58" y1="86.92" x2="784.58" y2="67.40"/><line x1="784.58" y1="67.40" x2="773.52" y2="60.91"/><line x1="762.38" y1="60.91" x2="756.89" y2="64.13"/><line x1="784.58" y1="67.40" x2="801.21" y2="57.64"/><line x1="789.20" y1="69.17" x2="800.50" y2="62.53"/><line x1="801.21" y1="57.64" x2="817.84" y2="67.40"/><line x1="817.84" y1="67.40" x2="817.84" y2="80.03"/><line x1="817.84" y1="67.40" x2="834.47" y2="57.64"/><line x1="822.46" y1="69.17" x2="833.76" y2="62.53"/><line x1="834.47" y1="57.64" x2="851.10" y2="67.40"/><polygon points="851.10,67.40 864.74,62.75 861.81,57.76" fill="#363636" stroke="none"/><line x1="851.10" y1="67.40" x2="851.10" y2="86.92"/><polygon points="851.10,86.92 837.46,91.57 840.39,96.56" fill="#363636" stroke="none"/><line x1="851.10" y1="86.92" x2="867.73" y2="96.68"/><polygon points="867.73,96.68 881.37,92.03 878.44,87.04" fill="#363636" stroke="none"/><line x1="867.73" y1="96.68" x2="867.73" y2="116.20"/><line x1="867.73" y1="116.20" x2="851.10" y2="125.96"/><line x1="851.10" y1="125.96" x2="834.47" y2="116.20"/><line x1="846.48" y1="127.73" x2="835.18" y2="121.09"/><line x1="834.47" y1="116.20" x2="817.84" y2="125.96"/><line x1="817.84" y1="125.96" x2="801.21" y2="116.20"/><line x1="817.13" y1="121.07" x2="805.83" y2="114.43"/><line x1="801.21" y1="116.20" x2="784.58" y2="125.96"/><line x1="783.33" y1="130.00" x2="785.83" y2="130.00" stroke-width="1.23"/><line x1="783.08" y1="132.87" x2="786.08" y2="132.87" stroke-width="1.23"/><line x1="782.83" y1="135.73" x2="786.33" y2="135.73" stroke-width="1.23"/><line x1="782.58" y1="138.59" x2="786.58" y2="138.59" stroke-width="1.23"/><line x1="790.15" y1="148.75" x2="795.64" y2="151.97"/><line x1="784.58" y1="125.96" x2="767.95" y2="116.20"/><line x1="700.31" y1="114.29" x2="689.25" y2="120.77"/><line x1="702.55" y1="118.11" x2="691.50" y2="124.60"/><line x1="701.43" y1="116.20" x2="718.06" y2="125.96"/><line x1="701.43" y1="116.20" x2="701.43" y2="96.68"/><line x1="701.43" y1="96.68" x2="684.80" y2="86.92"/><line x1="696.81" y1="98.45" x2="685.51" y2="91.81"/><line x1="684.80" y1="86.92" x2="684.80" y2="67.40"/><line x1="681.90" y1="64.24" x2="680.63" y2="66.40" stroke-width="1.23"/><line x1="679.52" y1="62.56" x2="678.00" y2="65.15" stroke-width="1.23"/><line x1="677.14" y1="60.87" x2="675.36" y2="63.89" stroke-width="1.23"/><line x1="674.76" y1="59.19" x2="672.73" y2="62.64" stroke-width="1.23"/><line x1="684.80" y1="67.40" x2="701.43" y2="57.64"/><polygon points="701.43,57.64 712.14,67.28 715.07,62.29" fill="#363636" stroke="none"/><line x1="701.43" y1="57.64" x2="701.43" y2="38.12"/><line x1="701.43" y1="38.12" x2="690.37" y2="31.63"/><line x1="701.43" y1="38.12" x2="712.49" y2="31.63"/></g>
<text x="714.35" y="149.86" font-size="11.11" fill="#767676" stroke="#767676" stroke-width="0.11">C</text>
<text x="722.81" y="149.86" font-size="11.11" fill="#767676" stroke="#767676" stroke-width="0.11">H</text>
<text x="731.28" y="152.08" font-size="8.88" fill="#767676" stroke="#767676" stroke-width="0.11">3</text>
<text x="730.67" y="101.06" font-size="11.11" fill="#e8212e" stroke="#e8212e" stroke-width="0.28">O</text>
<text x="739.75" y="101.06" font-size="11.11" fill="#e8212e" stroke="#e8212e" stroke-width="0.28">H</text>
<text x="747.61" y="149.86" font-size="11.11" fill="#767676" stroke="#767676" stroke-width="0.11">C</text>
<text x="756.07" y="149.86" font-size="11.11" fill="#767676" stroke="#767676" stroke-width="0.11">H</text>
<text x="764.54" y="152.08" font-size="8.88" fill="#767676" stroke="#767676" stroke-width="0.11">3</text>
<text x="764.24" y="139.12" font-size="11.11" fill="#1a1a1a" stroke="#1a1a1a" stroke-width="0.28">H</text>
<text x="763.93" y="101.06" font-size="11.11" fill="#e8212e" stroke="#e8212e" stroke-width="0.28">O</text>
<text x="797.19" y="101.06" font-size="11.11" fill="#e8212e" stroke="#e8212e" stroke-width="0.28">O</text>
<text x="763.93" y="62.02" font-size="11.11" fill="#e8212e" stroke="#e8212e" stroke-width="0.28">O</text>
<text x="733.76" y="71.78" font-size="11.11" fill="#767676" stroke="#767676" stroke-width="0.11">H</text>
<text x="742.23" y="74.00" font-size="8.88" fill="#767676" stroke="#767676" stroke-width="0.11">3</text>
<text x="747.61" y="71.78" font-size="11.11" fill="#767676" stroke="#767676" stroke-width="0.11">C</text>
<text x="814.13" y="91.30" font-size="11.11" fill="#767676" stroke="#767676" stroke-width="0.11">C</text>
<text x="822.59" y="91.30" font-size="11.11" fill="#767676" stroke="#767676" stroke-width="0.11">H</text>
<text x="831.06" y="93.52" font-size="8.88" fill="#767676" stroke="#767676" stroke-width="0.11">3</text>
<text x="864.02" y="62.02" font-size="11.11" fill="#767676" stroke="#767676" stroke-width="0.11">C</text>
<text x="872.48" y="62.02" font-size="11.11" fill="#767676" stroke="#767676" stroke-width="0.11">H</text>
<text x="880.95" y="64.24" font-size="8.88" fill="#767676" stroke="#767676" stroke-width="0.11">3</text>
<text x="821.99" y="101.06" font-size="11.11" fill="#e8212e" stroke="#e8212e" stroke-width="0.28">H</text>
<text x="830.45" y="101.06" font-size="11.11" fill="#e8212e" stroke="#e8212e" stroke-width="0.28">O</text>
<text x="880.65" y="91.30" font-size="11.11" fill="#767676" stroke="#767676" stroke-width="0.11">C</text>
<text x="889.11" y="91.30" font-size="11.11" fill="#767676" stroke="#767676" stroke-width="0.11">H</text>
<text x="897.58" y="93.52" font-size="8.88" fill="#767676" stroke="#767676" stroke-width="0.11">3</text>
<text x="880.34" y="130.34" font-size="11.11" fill="#e8212e" stroke="#e8212e" stroke-width="0.28">O</text>
<text x="889.42" y="130.34" font-size="11.11" fill="#e8212e" stroke="#e8212e" stroke-width="0.28">H</text>
<text x="864.02" y="159.62" font-size="11.11" fill="#1a1a1a" stroke="#1a1a1a" stroke-width="0.28">H</text>
<text x="780.56" y="149.86" font-size="11.11" fill="#e8212e" stroke="#e8212e" stroke-width="0.28">O</text>
<text x="797.50" y="159.62" font-size="11.11" fill="#767676" stroke="#767676" stroke-width="0.11">C</text>
<text x="805.96" y="159.62" font-size="11.11" fill="#767676" stroke="#767676" stroke-width="0.11">H</text>
<text x="814.43" y="161.84" font-size="8.88" fill="#767676" stroke="#767676" stroke-width="0.11">3</text>
<text x="680.78" y="130.34" font-size="11.11" fill="#e8212e" stroke="#e8212e" stroke-width="0.28">O</text>
<text x="650.61" y="62.02" font-size="11.11" fill="#767676" stroke="#767676" stroke-width="0.11">H</text>
<text x="659.08" y="64.24" font-size="8.88" fill="#767676" stroke="#767676" stroke-width="0.11">3</text>
<text x="664.46" y="62.02" font-size="11.11" fill="#767676" stroke="#767676" stroke-width="0.11">C</text>
<text x="714.04" y="71.78" font-size="11.11" fill="#e8212e" stroke="#e8212e" stroke-width="0.28">O</text>
<text x="723.12" y="71.78" font-size="11.11" fill="#e8212e" stroke="#e8212e" stroke-width="0.28">H</text>
<text x="667.24" y="32.74" font-size="11.11" fill="#767676" stroke="#767676" stroke-width="0.11">H</text>
<text x="675.71" y="34.96" font-size="8.88" fill="#767676" stroke="#767676" stroke-width="0.11">3</text>
<text x="681.09" y="32.74" font-size="11.11" fill="#767676" stroke="#767676" stroke-width="0.11">C</text>
<text x="714.35" y="32.74" font-size="11.11" fill="#767676" stroke="#767676" stroke-width="0.11">C</text>
<text x="722.81" y="32.74" font-size="11.11" fill="#767676" stroke="#767676" stroke-width="0.11">H</text>
<text x="731.28" y="34.96" font-size="8.88" fill="#767676" stroke="#767676" stroke-width="0.11">3</text>
<g stroke="#363636" stroke-width="1.64" stroke-linecap="butt"><line x1="867.90" y1="294.40" x2="878.98" y2="300.92"/><line x1="851.25" y1="304.20" x2="851.25" y2="323.80"/><line x1="851.25" y1="323.80" x2="862.33" y2="330.32"/><line x1="716.80" y1="308.27" x2="719.30" y2="308.27" stroke-width="1.23"/><line x1="716.55" y1="311.15" x2="719.55" y2="311.15" stroke-width="1.23"/><line x1="716.30" y1="314.03" x2="719.80" y2="314.03" stroke-width="1.23"/><line x1="716.05" y1="316.91" x2="720.05" y2="316.91" stroke-width="1.23"/><line x1="718.05" y1="304.20" x2="734.70" y2="294.40"/><line x1="735.95" y1="290.33" x2="733.45" y2="290.33" stroke-width="1.23"/><line x1="736.20" y1="287.45" x2="733.20" y2="287.45" stroke-width="1.23"/><line x1="736.45" y1="284.57" x2="732.95" y2="284.57" stroke-width="1.23"/><line x1="736.70" y1="281.69" x2="732.70" y2="281.69" stroke-width="1.23"/><line x1="734.70" y1="294.40" x2="751.35" y2="304.20"/><polygon points="751.35,304.20 748.46,318.29 754.25,318.29" fill="#363636" stroke="none"/><line x1="751.35" y1="304.20" x2="768.00" y2="294.40"/><line x1="766.75" y1="298.15" x2="769.25" y2="298.15" stroke-width="1.23"/><line x1="766.50" y1="300.81" x2="769.50" y2="300.81" stroke-width="1.23"/><line x1="766.25" y1="303.47" x2="769.75" y2="303.47" stroke-width="1.23"/><line x1="766.00" y1="306.13" x2="770.00" y2="306.13" stroke-width="1.23"/><line x1="768.00" y1="294.40" x2="768.00" y2="281.69"/><line x1="773.57" y1="271.52" x2="784.65" y2="265.00"/><line x1="783.52" y1="266.91" x2="794.60" y2="273.43"/><line x1="785.78" y1="263.09" x2="796.85" y2="269.61"/><line x1="784.65" y1="265.00" x2="784.65" y2="245.40"/><line x1="784.65" y1="245.40" x2="773.57" y2="238.88"/><line x1="762.43" y1="238.88" x2="756.92" y2="242.12"/><line x1="784.65" y1="245.40" x2="801.30" y2="235.60"/><line x1="789.27" y1="247.16" x2="800.60" y2="240.49"/><line x1="801.30" y1="235.60" x2="817.95" y2="245.40"/><line x1="817.95" y1="245.40" x2="817.95" y2="258.11"/><line x1="817.95" y1="245.40" x2="834.60" y2="235.60"/><line x1="822.57" y1="247.16" x2="833.90" y2="240.49"/><line x1="834.60" y1="235.60" x2="851.25" y2="245.40"/><polygon points="851.25,245.40 864.91,240.72 861.97,235.73" fill="#363636" stroke="none"/><line x1="851.25" y1="245.40" x2="851.25" y2="265.00"/><polygon points="851.25,265.00 837.59,269.68 840.53,274.67" fill="#363636" stroke="none"/><line x1="851.25" y1="265.00" x2="867.90" y2="274.80"/><polygon points="867.90,274.80 881.56,270.12 878.62,265.13" fill="#363636" stroke="none"/><line x1="867.90" y1="274.80" x2="867.90" y2="294.40"/><line x1="867.90" y1="294.40" x2="851.25" y2="304.20"/><line x1="851.25" y1="304.20" x2="834.60" y2="294.40"/><line x1="846.63" y1="305.96" x2="835.30" y2="299.29"/><line x1="834.60" y1="294.40" x2="817.95" y2="304.20"/><line x1="817.95" y1="304.20" x2="801.30" y2="294.40"/><line x1="817.25" y1="299.31" x2="805.92" y2="292.64"/><line x1="801.30" y1="294.40" x2="784.65" y2="304.20"/><line x1="783.40" y1="308.27" x2="785.90" y2="308.27" stroke-width="1.23"/><line x1="783.15" y1="311.15" x2="786.15" y2="311.15" stroke-width="1.23"/><line x1="782.90" y1="314.03" x2="786.40" y2="314.03" stroke-width="1.23"/><line x1="782.65" y1="316.91" x2="786.65" y2="316.91" stroke-width="1.23"/><line x1="790.22" y1="327.08" x2="795.73" y2="330.32"/><line x1="784.65" y1="304.20" x2="768.00" y2="294.40"/><line x1="700.27" y1="292.49" x2="689.20" y2="299.01"/><line x1="702.53" y1="296.31" x2="691.45" y2="302.83"/><line x1="701.40" y1="294.40" x2="718.05" y2="304.20"/><line x1="701.40" y1="294.40" x2="701.40" y2="274.80"/><line x1="701.40" y1="274.80" x2="684.75" y2="265.00"/><line x1="696.78" y1="276.56" x2="685.45" y2="269.89"/><line x1="684.75" y1="265.00" x2="684.75" y2="245.40"/><line x1="681.84" y1="242.23" x2="680.57" y2="244.39" stroke-width="1.23"/><line x1="679.46" y1="240.54" x2="677.93" y2="243.13" stroke-width="1.23"/><line x1="677.07" y1="238.85" x2="675.30" y2="241.87" stroke-width="1.23"/><line x1="674.69" y1="237.16" x2="672.66" y2="240.60" stroke-width="1.23"/><line x1="684.75" y1="245.40" x2="701.40" y2="235.60"/><polygon points="701.40,235.60 712.12,245.27 715.06,240.28" fill="#363636" stroke="none"/><line x1="701.40" y1="235.60" x2="701.40" y2="216.00"/><line x1="701.40" y1="216.00" x2="690.32" y2="209.48"/><line x1="701.40" y1="216.00" x2="712.48" y2="209.48"/></g>
<text x="714.34" y="328.18" font-size="11.11" fill="#767676" stroke="#767676" stroke-width="0.11">C</text>
<text x="722.80" y="328.18" font-size="11.11" fill="#767676" stroke="#767676" stroke-width="0.11">H</text>
<text x="731.27" y="330.40" font-size="8.88" fill="#767676" stroke="#767676" stroke-width="0.11">3</text>
<text x="730.68" y="279.18" font-size="11.11" fill="#e8212e" stroke="#e8212e" stroke-width="0.28">O</text>
<text x="739.76" y="279.18" font-size="11.11" fill="#e8212e" stroke="#e8212e" stroke-width="0.28">H</text>
<text x="747.64" y="328.18" font-size="11.11" fill="#767676" stroke="#767676" stroke-width="0.11">C</text>
<text x="756.10" y="328.18" font-size="11.11" fill="#767676" stroke="#767676" stroke-width="0.11">H</text>
<text x="764.57" y="330.40" font-size="8.88" fill="#767676" stroke="#767676" stroke-width="0.11">3</text>
<text x="764.29" y="317.40" font-size="11.11" fill="#1a1a1a" stroke="#1a1a1a" stroke-width="0.28">H</text>
<text x="763.98" y="279.18" font-size="11.11" fill="#e8212e" stroke="#e8212e" stroke-width="0.28">O</text>
<text x="797.28" y="279.18" font-size="11.11" fill="#e8212e" stroke="#e8212e" stroke-width="0.28">O</text>
<text x="763.98" y="239.98" font-size="11.11" fill="#e8212e" stroke="#e8212e" stroke-width="0.28">O</text>
<text x="733.79" y="249.78" font-size="11.11" fill="#767676" stroke="#767676" stroke-width="0.11">H</text>
<text x="742.26" y="252.00" font-size="8.88" fill="#767676" stroke="#767676" stroke-width="0.11">3</text>
<text x="747.64" y="249.78" font-size="11.11" fill="#767676" stroke="#767676" stroke-width="0.11">C</text>
<text x="814.24" y="269.38" font-size="11.11" fill="#767676" stroke="#767676" stroke-width="0.11">C</text>
<text x="822.70" y="269.38" font-size="11.11" fill="#767676" stroke="#767676" stroke-width="0.11">H</text>
<text x="831.17" y="271.60" font-size="8.88" fill="#767676" stroke="#767676" stroke-width="0.11">3</text>
<text x="864.19" y="239.98" font-size="11.11" fill="#767676" stroke="#767676" stroke-width="0.11">C</text>
<text x="872.65" y="239.98" font-size="11.11" fill="#767676" stroke="#767676" stroke-width="0.11">H</text>
<text x="881.12" y="242.20" font-size="8.88" fill="#767676" stroke="#767676" stroke-width="0.11">3</text>
<text x="822.12" y="279.18" font-size="11.11" fill="#e8212e" stroke="#e8212e" stroke-width="0.28">H</text>
<text x="830.58" y="279.18" font-size="11.11" fill="#e8212e" stroke="#e8212e" stroke-width="0.28">O</text>
<text x="880.84" y="269.38" font-size="11.11" fill="#767676" stroke="#767676" stroke-width="0.11">C</text>
<text x="889.30" y="269.38" font-size="11.11" fill="#767676" stroke="#767676" stroke-width="0.11">H</text>
<text x="897.77" y="271.60" font-size="8.88" fill="#767676" stroke="#767676" stroke-width="0.11">3</text>
<text x="880.84" y="308.58" font-size="11.11" fill="#1a1a1a" stroke="#1a1a1a" stroke-width="0.28">H</text>
<text x="863.88" y="337.98" font-size="11.11" fill="#e8212e" stroke="#e8212e" stroke-width="0.28">O</text>
<text x="872.96" y="337.98" font-size="11.11" fill="#e8212e" stroke="#e8212e" stroke-width="0.28">H</text>
<text x="780.63" y="328.18" font-size="11.11" fill="#e8212e" stroke="#e8212e" stroke-width="0.28">O</text>
<text x="797.59" y="337.98" font-size="11.11" fill="#767676" stroke="#767676" stroke-width="0.11">C</text>
<text x="806.05" y="337.98" font-size="11.11" fill="#767676" stroke="#767676" stroke-width="0.11">H</text>
<text x="814.52" y="340.20" font-size="8.88" fill="#767676" stroke="#767676" stroke-width="0.11">3</text>
<text x="680.73" y="308.58" font-size="11.11" fill="#e8212e" stroke="#e8212e" stroke-width="0.28">O</text>
<text x="650.54" y="239.98" font-size="11.11" fill="#767676" stroke="#767676" stroke-width="0.11">H</text>
<text x="659.01" y="242.20" font-size="8.88" fill="#767676" stroke="#767676" stroke-width="0.11">3</text>
<text x="664.39" y="239.98" font-size="11.11" fill="#767676" stroke="#767676" stroke-width="0.11">C</text>
<text x="714.03" y="249.78" font-size="11.11" fill="#e8212e" stroke="#e8212e" stroke-width="0.28">O</text>
<text x="723.11" y="249.78" font-size="11.11" fill="#e8212e" stroke="#e8212e" stroke-width="0.28">H</text>
<text x="667.19" y="210.58" font-size="11.11" fill="#767676" stroke="#767676" stroke-width="0.11">H</text>
<text x="675.66" y="212.80" font-size="8.88" fill="#767676" stroke="#767676" stroke-width="0.11">3</text>
<text x="681.04" y="210.58" font-size="11.11" fill="#767676" stroke="#767676" stroke-width="0.11">C</text>
<text x="714.34" y="210.58" font-size="11.11" fill="#767676" stroke="#767676" stroke-width="0.11">C</text>
<text x="722.80" y="210.58" font-size="11.11" fill="#767676" stroke="#767676" stroke-width="0.11">H</text>
<text x="731.27" y="212.80" font-size="8.88" fill="#767676" stroke="#767676" stroke-width="0.11">3</text>
<g stroke="#363636" stroke-width="1.56" stroke-linecap="butt"><line x1="872.72" y1="465.32" x2="883.08" y2="471.37"/><line x1="857.00" y1="474.50" x2="857.00" y2="492.85"/><line x1="857.00" y1="492.85" x2="867.36" y2="498.89"/><line x1="729.99" y1="478.25" x2="732.49" y2="478.25" stroke-width="1.17"/><line x1="729.74" y1="480.91" x2="732.74" y2="480.91" stroke-width="1.17"/><line x1="729.49" y1="483.57" x2="732.99" y2="483.57" stroke-width="1.17"/><line x1="729.24" y1="486.22" x2="733.24" y2="486.22" stroke-width="1.17"/><line x1="731.24" y1="474.50" x2="746.96" y2="465.32"/><line x1="748.21" y1="461.57" x2="745.71" y2="461.57" stroke-width="1.17"/><line x1="748.46" y1="458.92" x2="745.46" y2="458.92" stroke-width="1.17"/><line x1="748.71" y1="456.26" x2="745.21" y2="456.26" stroke-width="1.17"/><line x1="748.96" y1="453.60" x2="744.96" y2="453.60" stroke-width="1.17"/><line x1="746.96" y1="465.32" x2="762.68" y2="474.50"/><polygon points="762.68,474.50 759.93,487.55 765.42,487.55" fill="#363636" stroke="none"/><line x1="762.68" y1="474.50" x2="778.40" y2="465.32"/><line x1="777.15" y1="469.08" x2="779.65" y2="469.08" stroke-width="1.17"/><line x1="776.90" y1="471.73" x2="779.90" y2="471.73" stroke-width="1.17"/><line x1="776.65" y1="474.39" x2="780.15" y2="474.39" stroke-width="1.17"/><line x1="776.40" y1="477.05" x2="780.40" y2="477.05" stroke-width="1.17"/><line x1="778.40" y1="465.32" x2="778.40" y2="453.60"/><line x1="783.76" y1="443.84" x2="794.12" y2="437.80"/><line x1="793.06" y1="439.62" x2="803.41" y2="445.66"/><line x1="795.18" y1="435.98" x2="805.54" y2="442.03"/><line x1="794.12" y1="437.80" x2="794.12" y2="419.45"/><line x1="794.12" y1="419.45" x2="783.76" y2="413.41"/><line x1="773.04" y1="413.41" x2="768.04" y2="416.32"/><line x1="794.12" y1="419.45" x2="809.84" y2="410.27"/><line x1="798.49" y1="421.14" x2="809.16" y2="414.91"/><line x1="809.84" y1="410.27" x2="825.56" y2="419.45"/><line x1="825.56" y1="419.45" x2="825.56" y2="431.17"/><line x1="825.56" y1="419.45" x2="841.28" y2="410.27"/><line x1="829.93" y1="421.14" x2="840.60" y2="414.91"/><line x1="841.28" y1="410.27" x2="857.00" y2="419.45"/><polygon points="857.00,419.45 869.81,415.15 867.04,410.41" fill="#363636" stroke="none"/><line x1="857.00" y1="419.45" x2="857.00" y2="437.80"/><polygon points="857.00,437.80 844.19,442.10 846.96,446.84" fill="#363636" stroke="none"/><line x1="857.00" y1="437.80" x2="872.72" y2="446.98"/><polygon points="872.72,446.98 885.53,442.68 882.76,437.93" fill="#363636" stroke="none"/><line x1="872.72" y1="446.98" x2="872.72" y2="465.32"/><line x1="872.72" y1="465.32" x2="857.00" y2="474.50"/><line x1="857.00" y1="474.50" x2="841.28" y2="465.32"/><line x1="852.63" y1="476.19" x2="841.96" y2="469.96"/><line x1="841.28" y1="465.32" x2="825.56" y2="474.50"/><line x1="825.56" y1="474.50" x2="809.84" y2="465.32"/><line x1="824.88" y1="469.86" x2="814.21" y2="463.64"/><line x1="809.84" y1="465.32" x2="794.12" y2="474.50"/><line x1="792.87" y1="478.25" x2="795.37" y2="478.25" stroke-width="1.17"/><line x1="792.62" y1="480.91" x2="795.62" y2="480.91" stroke-width="1.17"/><line x1="792.37" y1="483.57" x2="795.87" y2="483.57" stroke-width="1.17"/><line x1="792.12" y1="486.22" x2="796.12" y2="486.22" stroke-width="1.17"/><line x1="799.48" y1="495.98" x2="804.48" y2="498.89"/><line x1="794.12" y1="474.50" x2="778.40" y2="465.32"/><line x1="714.46" y1="463.51" x2="704.10" y2="469.55"/><line x1="716.58" y1="467.14" x2="706.23" y2="473.19"/><line x1="715.52" y1="465.32" x2="731.24" y2="474.50"/><line x1="715.52" y1="465.32" x2="715.52" y2="446.98"/><line x1="715.52" y1="446.98" x2="699.80" y2="437.80"/><line x1="711.15" y1="448.66" x2="700.48" y2="442.44"/><line x1="699.80" y1="437.80" x2="699.80" y2="419.45"/><line x1="697.12" y1="416.43" x2="695.86" y2="418.60" stroke-width="1.17"/><line x1="694.90" y1="414.85" x2="693.38" y2="417.44" stroke-width="1.17"/><line x1="692.67" y1="413.26" x2="690.91" y2="416.29" stroke-width="1.17"/><line x1="690.45" y1="411.68" x2="688.44" y2="415.13" stroke-width="1.17"/><line x1="699.80" y1="419.45" x2="715.52" y2="410.27"/><polygon points="715.52,410.27 725.56,419.32 728.33,414.57" fill="#363636" stroke="none"/><line x1="715.52" y1="410.27" x2="715.52" y2="391.93"/><line x1="715.52" y1="391.93" x2="705.16" y2="385.88"/><line x1="715.52" y1="391.93" x2="725.88" y2="385.88"/></g>
<text x="727.68" y="497.08" font-size="10.69" fill="#767676" stroke="#767676" stroke-width="0.11">C</text>
<text x="735.83" y="497.08" font-size="10.69" fill="#767676" stroke="#767676" stroke-width="0.11">H</text>
<text x="743.97" y="499.21" font-size="8.55" fill="#767676" stroke="#767676" stroke-width="0.11">3</text>
<text x="743.10" y="451.20" font-size="10.69" fill="#e8212e" stroke="#e8212e" stroke-width="0.27">O</text>
<text x="751.84" y="451.20" font-size="10.69" fill="#e8212e" stroke="#e8212e" stroke-width="0.27">H</text>
<text x="759.12" y="497.08" font-size="10.69" fill="#767676" stroke="#767676" stroke-width="0.11">C</text>
<text x="767.27" y="497.08" font-size="10.69" fill="#767676" stroke="#767676" stroke-width="0.11">H</text>
<text x="775.41" y="499.21" font-size="8.55" fill="#767676" stroke="#767676" stroke-width="0.11">3</text>
<text x="774.84" y="487.90" font-size="10.69" fill="#1a1a1a" stroke="#1a1a1a" stroke-width="0.27">H</text>
<text x="774.54" y="451.20" font-size="10.69" fill="#e8212e" stroke="#e8212e" stroke-width="0.27">O</text>
<text x="805.98" y="451.20" font-size="10.69" fill="#e8212e" stroke="#e8212e" stroke-width="0.27">O</text>
<text x="774.54" y="414.50" font-size="10.69" fill="#e8212e" stroke="#e8212e" stroke-width="0.27">O</text>
<text x="745.80" y="423.68" font-size="10.69" fill="#767676" stroke="#767676" stroke-width="0.11">H</text>
<text x="753.94" y="425.81" font-size="8.55" fill="#767676" stroke="#767676" stroke-width="0.11">3</text>
<text x="759.12" y="423.68" font-size="10.69" fill="#767676" stroke="#767676" stroke-width="0.11">C</text>
<text x="822.00" y="442.03" font-size="10.69" fill="#767676" stroke="#767676" stroke-width="0.11">C</text>
<text x="830.15" y="442.03" font-size="10.69" fill="#767676" stroke="#767676" stroke-width="0.11">H</text>
<text x="838.29" y="444.16" font-size="8.55" fill="#767676" stroke="#767676" stroke-width="0.11">3</text>
<text x="869.16" y="414.50" font-size="10.69" fill="#767676" stroke="#767676" stroke-width="0.11">C</text>
<text x="877.31" y="414.50" font-size="10.69" fill="#767676" stroke="#767676" stroke-width="0.11">H</text>
<text x="885.45" y="416.64" font-size="8.55" fill="#767676" stroke="#767676" stroke-width="0.11">3</text>
<text x="829.28" y="451.20" font-size="10.69" fill="#e8212e" stroke="#e8212e" stroke-width="0.27">H</text>
<text x="837.42" y="451.20" font-size="10.69" fill="#e8212e" stroke="#e8212e" stroke-width="0.27">O</text>
<text x="884.88" y="442.03" font-size="10.69" fill="#767676" stroke="#767676" stroke-width="0.11">C</text>
<text x="893.03" y="442.03" font-size="10.69" fill="#767676" stroke="#767676" stroke-width="0.11">H</text>
<text x="901.17" y="444.16" font-size="8.55" fill="#767676" stroke="#767676" stroke-width="0.11">3</text>
<text x="884.88" y="478.73" font-size="10.69" fill="#1a1a1a" stroke="#1a1a1a" stroke-width="0.27">H</text>
<text x="869.16" y="506.25" font-size="10.69" fill="#1a1a1a" stroke="#1a1a1a" stroke-width="0.27">H</text>
<text x="790.26" y="497.08" font-size="10.69" fill="#e8212e" stroke="#e8212e" stroke-width="0.27">O</text>
<text x="806.28" y="506.25" font-size="10.69" fill="#767676" stroke="#767676" stroke-width="0.11">C</text>
<text x="814.43" y="506.25" font-size="10.69" fill="#767676" stroke="#767676" stroke-width="0.11">H</text>
<text x="822.57" y="508.39" font-size="8.55" fill="#767676" stroke="#767676" stroke-width="0.11">3</text>
<text x="695.94" y="478.73" font-size="10.69" fill="#e8212e" stroke="#e8212e" stroke-width="0.27">O</text>
<text x="667.20" y="414.50" font-size="10.69" fill="#767676" stroke="#767676" stroke-width="0.11">H</text>
<text x="675.34" y="416.64" font-size="8.55" fill="#767676" stroke="#767676" stroke-width="0.11">3</text>
<text x="680.52" y="414.50" font-size="10.69" fill="#767676" stroke="#767676" stroke-width="0.11">C</text>
<text x="727.38" y="423.68" font-size="10.69" fill="#e8212e" stroke="#e8212e" stroke-width="0.27">O</text>
<text x="736.12" y="423.68" font-size="10.69" fill="#e8212e" stroke="#e8212e" stroke-width="0.27">H</text>
<text x="682.92" y="386.98" font-size="10.69" fill="#767676" stroke="#767676" stroke-width="0.11">H</text>
<text x="691.06" y="389.11" font-size="8.55" fill="#767676" stroke="#767676" stroke-width="0.11">3</text>
<text x="696.24" y="386.98" font-size="10.69" fill="#767676" stroke="#767676" stroke-width="0.11">C</text>
<text x="727.68" y="386.98" font-size="10.69" fill="#767676" stroke="#767676" stroke-width="0.11">C</text>
<text x="735.83" y="386.98" font-size="10.69" fill="#767676" stroke="#767676" stroke-width="0.11">H</text>
<text x="743.97" y="389.11" font-size="8.55" fill="#767676" stroke="#767676" stroke-width="0.11">3</text>
<g stroke="#363636" stroke-width="1.09" stroke-linecap="butt"><line x1="886.80" y1="615.70" x2="886.80" y2="623.97"/><line x1="799.08" y1="618.35" x2="800.92" y2="618.35" stroke-width="0.90"/><line x1="798.90" y1="620.22" x2="801.10" y2="620.22" stroke-width="0.90"/><line x1="798.71" y1="622.10" x2="801.29" y2="622.10" stroke-width="0.90"/><line x1="798.53" y1="623.97" x2="801.47" y2="623.97" stroke-width="0.90"/><line x1="800.00" y1="615.70" x2="810.85" y2="609.30"/><line x1="811.77" y1="606.65" x2="809.93" y2="606.65" stroke-width="0.90"/><line x1="811.95" y1="604.78" x2="809.75" y2="604.78" stroke-width="0.90"/><line x1="812.14" y1="602.90" x2="809.56" y2="602.90" stroke-width="0.90"/><line x1="812.32" y1="601.03" x2="809.38" y2="601.03" stroke-width="0.90"/><line x1="810.85" y1="609.30" x2="821.70" y2="615.70"/><polygon points="821.70,615.70 819.78,624.88 823.62,624.88" fill="#363636" stroke="none"/><line x1="821.70" y1="615.70" x2="832.55" y2="609.30"/><line x1="831.63" y1="611.95" x2="833.47" y2="611.95" stroke-width="0.90"/><line x1="831.45" y1="613.82" x2="833.65" y2="613.82" stroke-width="0.90"/><line x1="831.26" y1="615.70" x2="833.84" y2="615.70" stroke-width="0.90"/><line x1="831.08" y1="617.57" x2="834.02" y2="617.57" stroke-width="0.90"/><line x1="832.55" y1="609.30" x2="832.55" y2="601.03"/><line x1="836.21" y1="594.34" x2="843.40" y2="590.10"/><line x1="842.65" y1="591.37" x2="849.84" y2="595.61"/><line x1="844.15" y1="588.83" x2="851.33" y2="593.07"/><line x1="843.40" y1="590.10" x2="843.40" y2="577.30"/><line x1="843.40" y1="577.30" x2="836.21" y2="573.06"/><line x1="828.89" y1="568.74" x2="825.36" y2="566.66"/><line x1="843.40" y1="577.30" x2="854.25" y2="570.90"/><line x1="846.46" y1="578.46" x2="853.79" y2="574.15"/><line x1="854.25" y1="570.90" x2="865.10" y2="577.30"/><line x1="865.10" y1="577.30" x2="865.10" y2="585.57"/><line x1="865.10" y1="577.30" x2="875.95" y2="570.90"/><line x1="868.16" y1="578.46" x2="875.49" y2="574.15"/><line x1="875.95" y1="570.90" x2="886.80" y2="577.30"/><polygon points="886.80,577.30 895.70,574.28 893.74,570.97" fill="#363636" stroke="none"/><line x1="886.80" y1="577.30" x2="886.80" y2="590.10"/><polygon points="886.80,590.10 877.90,593.12 879.86,596.43" fill="#363636" stroke="none"/><line x1="886.80" y1="590.10" x2="897.65" y2="596.50"/><polygon points="897.65,596.50 906.55,593.48 904.59,590.17" fill="#363636" stroke="none"/><line x1="897.65" y1="596.50" x2="897.65" y2="609.30"/><line x1="897.65" y1="609.30" x2="886.80" y2="615.70"/><line x1="886.80" y1="615.70" x2="875.95" y2="609.30"/><line x1="883.74" y1="616.86" x2="876.41" y2="612.55"/><line x1="875.95" y1="609.30" x2="865.10" y2="615.70"/><line x1="865.10" y1="615.70" x2="854.25" y2="609.30"/><line x1="864.64" y1="612.45" x2="857.31" y2="608.14"/><line x1="854.25" y1="609.30" x2="843.40" y2="615.70"/><line x1="842.48" y1="618.35" x2="844.32" y2="618.35" stroke-width="0.90"/><line x1="842.30" y1="620.22" x2="844.50" y2="620.22" stroke-width="0.90"/><line x1="842.11" y1="622.10" x2="844.69" y2="622.10" stroke-width="0.90"/><line x1="841.93" y1="623.97" x2="844.87" y2="623.97" stroke-width="0.90"/><line x1="847.06" y1="630.66" x2="850.59" y2="632.74"/><line x1="843.40" y1="615.70" x2="832.55" y2="609.30"/><polygon points="778.30,590.10 769.40,593.12 771.36,596.43" fill="#363636" stroke="none"/><line x1="763.79" y1="594.34" x2="756.60" y2="590.10"/><line x1="758.07" y1="590.10" x2="758.07" y2="581.83"/><line x1="755.13" y1="590.10" x2="755.13" y2="581.83"/><line x1="756.60" y1="590.10" x2="745.75" y2="596.50"/><line x1="745.75" y1="596.50" x2="734.90" y2="590.10"/><line x1="742.69" y1="597.66" x2="735.36" y2="593.35"/><line x1="734.90" y1="590.10" x2="724.05" y2="596.50"/><line x1="722.58" y1="596.50" x2="722.58" y2="604.77"/><line x1="725.52" y1="596.50" x2="725.52" y2="604.77"/><line x1="724.05" y1="596.50" x2="716.86" y2="592.26"/><line x1="709.54" y1="592.26" x2="702.35" y2="596.50"/><line x1="702.35" y1="596.50" x2="701.03" y2="609.22"/><line x1="699.59" y1="598.27" x2="698.70" y2="606.92"/><line x1="701.03" y1="609.22" x2="688.78" y2="611.89"/><line x1="688.78" y1="611.89" x2="682.52" y2="600.80"/><line x1="682.52" y1="600.80" x2="690.90" y2="591.29"/><line x1="690.90" y1="591.29" x2="702.35" y2="596.50"/><line x1="692.18" y1="590.57" x2="688.14" y2="583.42"/><line x1="689.62" y1="592.01" x2="685.58" y2="584.87"/><line x1="701.03" y1="609.22" x2="705.07" y2="616.37"/><line x1="778.30" y1="590.10" x2="778.30" y2="577.30"/><line x1="776.47" y1="575.15" x2="775.53" y2="576.74" stroke-width="0.90"/><line x1="774.93" y1="574.03" x2="773.81" y2="575.93" stroke-width="0.90"/><line x1="773.40" y1="572.91" x2="772.09" y2="575.13" stroke-width="0.90"/><line x1="771.86" y1="571.79" x2="770.37" y2="574.33" stroke-width="0.90"/><line x1="778.30" y1="577.30" x2="789.15" y2="570.90"/><polygon points="789.15,570.90 796.09,577.23 798.05,573.92" fill="#363636" stroke="none"/><line x1="789.15" y1="570.90" x2="789.15" y2="558.10"/><line x1="789.15" y1="558.10" x2="781.96" y2="553.86"/><line x1="789.15" y1="558.10" x2="796.34" y2="553.86"/><line x1="778.30" y1="590.10" x2="789.15" y2="596.50"/><line x1="789.15" y1="596.50" x2="789.15" y2="609.30"/><line x1="788.40" y1="608.03" x2="781.22" y2="612.27"/><line x1="789.90" y1="610.57" x2="782.71" y2="614.81"/><line x1="789.15" y1="609.30" x2="800.00" y2="615.70"/></g>
<text x="797.66" y="631.51" font-size="7.30" fill="#767676" stroke="#767676" stroke-width="0.07">C</text>
<text x="803.23" y="631.51" font-size="7.30" fill="#767676" stroke="#767676" stroke-width="0.07">H</text>
<text x="808.79" y="632.97" font-size="5.84" fill="#767676" stroke="#767676" stroke-width="0.07">3</text>
<text x="808.31" y="599.51" font-size="7.30" fill="#e8212e" stroke="#e8212e" stroke-width="0.18">O</text>
<text x="814.28" y="599.51" font-size="7.30" fill="#e8212e" stroke="#e8212e" stroke-width="0.18">H</text>
<text x="819.36" y="631.51" font-size="7.30" fill="#767676" stroke="#767676" stroke-width="0.07">C</text>
<text x="824.93" y="631.51" font-size="7.30" fill="#767676" stroke="#767676" stroke-width="0.07">H</text>
<text x="830.49" y="632.97" font-size="5.84" fill="#767676" stroke="#767676" stroke-width="0.07">3</text>
<text x="830.21" y="625.11" font-size="7.30" fill="#1a1a1a" stroke="#1a1a1a" stroke-width="0.18">H</text>
<text x="830.01" y="599.51" font-size="7.30" fill="#e8212e" stroke="#e8212e" stroke-width="0.18">O</text>
<text x="851.71" y="599.51" font-size="7.30" fill="#e8212e" stroke="#e8212e" stroke-width="0.18">O</text>
<text x="830.01" y="573.91" font-size="7.30" fill="#e8212e" stroke="#e8212e" stroke-width="0.18">O</text>
<text x="810.26" y="567.51" font-size="7.30" fill="#767676" stroke="#767676" stroke-width="0.07">H</text>
<text x="815.83" y="568.97" font-size="5.84" fill="#767676" stroke="#767676" stroke-width="0.07">3</text>
<text x="819.36" y="567.51" font-size="7.30" fill="#767676" stroke="#767676" stroke-width="0.07">C</text>
<text x="862.76" y="593.11" font-size="7.30" fill="#767676" stroke="#767676" stroke-width="0.07">C</text>
<text x="868.33" y="593.11" font-size="7.30" fill="#767676" stroke="#767676" stroke-width="0.07">H</text>
<text x="873.89" y="594.57" font-size="5.84" fill="#767676" stroke="#767676" stroke-width="0.07">3</text>
<text x="895.31" y="573.91" font-size="7.30" fill="#767676" stroke="#767676" stroke-width="0.07">C</text>
<text x="900.88" y="573.91" font-size="7.30" fill="#767676" stroke="#767676" stroke-width="0.07">H</text>
<text x="906.44" y="575.37" font-size="5.84" fill="#767676" stroke="#767676" stroke-width="0.07">3</text>
<text x="867.85" y="599.51" font-size="7.30" fill="#e8212e" stroke="#e8212e" stroke-width="0.18">H</text>
<text x="873.41" y="599.51" font-size="7.30" fill="#e8212e" stroke="#e8212e" stroke-width="0.18">O</text>
<text x="906.16" y="593.11" font-size="7.30" fill="#767676" stroke="#767676" stroke-width="0.07">C</text>
<text x="911.73" y="593.11" font-size="7.30" fill="#767676" stroke="#767676" stroke-width="0.07">H</text>
<text x="917.29" y="594.57" font-size="5.84" fill="#767676" stroke="#767676" stroke-width="0.07">3</text>
<text x="884.46" y="631.51" font-size="7.30" fill="#767676" stroke="#767676" stroke-width="0.07">C</text>
<text x="890.03" y="631.51" font-size="7.30" fill="#767676" stroke="#767676" stroke-width="0.07">H</text>
<text x="895.59" y="632.97" font-size="5.84" fill="#767676" stroke="#767676" stroke-width="0.07">3</text>
<text x="840.86" y="631.51" font-size="7.30" fill="#e8212e" stroke="#e8212e" stroke-width="0.18">O</text>
<text x="851.91" y="637.91" font-size="7.30" fill="#767676" stroke="#767676" stroke-width="0.07">C</text>
<text x="857.48" y="637.91" font-size="7.30" fill="#767676" stroke="#767676" stroke-width="0.07">H</text>
<text x="863.04" y="639.37" font-size="5.84" fill="#767676" stroke="#767676" stroke-width="0.07">3</text>
<text x="764.91" y="599.51" font-size="7.30" fill="#e8212e" stroke="#e8212e" stroke-width="0.18">O</text>
<text x="754.06" y="580.31" font-size="7.30" fill="#e8212e" stroke="#e8212e" stroke-width="0.18">O</text>
<text x="721.51" y="612.31" font-size="7.30" fill="#e8212e" stroke="#e8212e" stroke-width="0.18">O</text>
<text x="710.86" y="593.11" font-size="7.30" fill="#3a3ad0" stroke="#3a3ad0" stroke-width="0.18">N</text>
<text x="710.86" y="585.96" font-size="7.30" fill="#3a3ad0" stroke="#3a3ad0" stroke-width="0.18">H</text>
<text x="682.09" y="583.22" font-size="7.30" fill="#e8212e" stroke="#e8212e" stroke-width="0.18">O</text>
<text x="704.76" y="623.32" font-size="7.30" fill="#e8212e" stroke="#e8212e" stroke-width="0.18">O</text>
<text x="710.73" y="623.32" font-size="7.30" fill="#e8212e" stroke="#e8212e" stroke-width="0.18">H</text>
<text x="756.01" y="573.91" font-size="7.30" fill="#767676" stroke="#767676" stroke-width="0.07">H</text>
<text x="761.58" y="575.37" font-size="5.84" fill="#767676" stroke="#767676" stroke-width="0.07">3</text>
<text x="765.11" y="573.91" font-size="7.30" fill="#767676" stroke="#767676" stroke-width="0.07">C</text>
<text x="797.46" y="580.31" font-size="7.30" fill="#e8212e" stroke="#e8212e" stroke-width="0.18">O</text>
<text x="803.43" y="580.31" font-size="7.30" fill="#e8212e" stroke="#e8212e" stroke-width="0.18">H</text>
<text x="766.86" y="554.71" font-size="7.30" fill="#767676" stroke="#767676" stroke-width="0.07">H</text>
<text x="772.43" y="556.17" font-size="5.84" fill="#767676" stroke="#767676" stroke-width="0.07">3</text>
<text x="775.96" y="554.71" font-size="7.30" fill="#767676" stroke="#767676" stroke-width="0.07">C</text>
<text x="797.66" y="554.71" font-size="7.30" fill="#767676" stroke="#767676" stroke-width="0.07">C</text>
<text x="803.23" y="554.71" font-size="7.30" fill="#767676" stroke="#767676" stroke-width="0.07">H</text>
<text x="808.79" y="556.17" font-size="5.84" fill="#767676" stroke="#767676" stroke-width="0.07">3</text>
<text x="775.76" y="618.71" font-size="7.30" fill="#e8212e" stroke="#e8212e" stroke-width="0.18">O</text>
</svg>
</body></html>
